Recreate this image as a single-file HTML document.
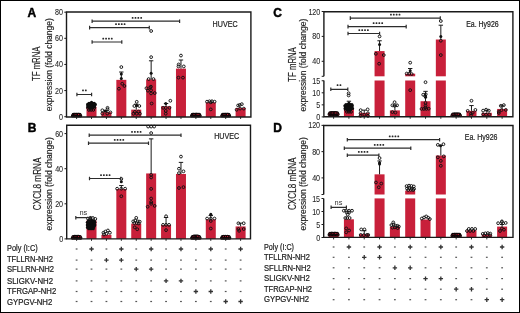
<!DOCTYPE html><html><head><meta charset="utf-8"><style>html,body{margin:0;padding:0;background:#fff;}svg{display:block;will-change:transform;}text{font-family:"Liberation Sans",sans-serif;}text.t{stroke:#1e1e1e;stroke-width:0.22px;}text.u{stroke:#1e1e1e;stroke-width:0.08px;}text.v{stroke:#1e1e1e;stroke-width:0.16px;}</style></head><body>
<svg width="520" height="313" viewBox="0 0 520 313">
<rect x="0" y="0" width="520" height="313" fill="#fff"/>
<text x="27.4" y="17.3" font-size="12.0" font-weight="bold" fill="#000" stroke="#000" stroke-width="0.45">A</text>
<text x="27.8" y="131.6" font-size="12.0" font-weight="bold" fill="#000" stroke="#000" stroke-width="0.45">B</text>
<text x="273.2" y="17.3" font-size="12.0" font-weight="bold" fill="#000" stroke="#000" stroke-width="0.45">C</text>
<text x="273.3" y="132.3" font-size="12.0" font-weight="bold" fill="#000" stroke="#000" stroke-width="0.45">D</text>
<text transform="translate(40.2 63.8) rotate(-90)" font-size="10" text-anchor="middle" fill="#1e1e1e" class="v" textLength="34.3" lengthAdjust="spacingAndGlyphs">TF mRNA</text>
<text transform="translate(51.6 64.7) rotate(-90)" font-size="8.9" text-anchor="middle" fill="#1e1e1e" class="v" textLength="93.1" lengthAdjust="spacingAndGlyphs">expression (fold change)</text>
<text transform="translate(40.6 183.9) rotate(-90)" font-size="10" text-anchor="middle" fill="#1e1e1e" class="v" textLength="52.5" lengthAdjust="spacingAndGlyphs">CXCL8 mRNA</text>
<text transform="translate(52 183.9) rotate(-90)" font-size="8.9" text-anchor="middle" fill="#1e1e1e" class="v" textLength="93.4" lengthAdjust="spacingAndGlyphs">expression (fold change)</text>
<text transform="translate(295.5 64.45) rotate(-90)" font-size="10" text-anchor="middle" fill="#1e1e1e" class="v" textLength="34.4" lengthAdjust="spacingAndGlyphs">TF mRNA</text>
<text transform="translate(306.3 65.1) rotate(-90)" font-size="8.9" text-anchor="middle" fill="#1e1e1e" class="v" textLength="92.7" lengthAdjust="spacingAndGlyphs">expression (fold change)</text>
<text transform="translate(295.6 183.8) rotate(-90)" font-size="10" text-anchor="middle" fill="#1e1e1e" class="v" textLength="52.5" lengthAdjust="spacingAndGlyphs">CXCL8 mRNA</text>
<text transform="translate(306.3 183.9) rotate(-90)" font-size="8.9" text-anchor="middle" fill="#1e1e1e" class="v" textLength="93.4" lengthAdjust="spacingAndGlyphs">expression (fold change)</text>
<text x="212.6" y="26.9" font-size="8.5" fill="#1e1e1e" class="t" textLength="25" lengthAdjust="spacingAndGlyphs">HUVEC</text>
<text x="214.2" y="138.9" font-size="8.5" fill="#1e1e1e" class="t" textLength="25" lengthAdjust="spacingAndGlyphs">HUVEC</text>
<text x="466.2" y="27" font-size="8.4" fill="#1e1e1e" class="t" textLength="32.5" lengthAdjust="spacingAndGlyphs">Ea. Hy926</text>
<text x="464.8" y="139.8" font-size="8.4" fill="#1e1e1e" class="t" textLength="32.6" lengthAdjust="spacingAndGlyphs">Ea. Hy926</text>
<rect x="71.6" y="115.39" width="10" height="1.61" fill="#c8203a"/>
<circle cx="72.7" cy="115.7" r="1.25" fill="#c8203a" stroke="#050505" stroke-width="1.05"/>
<circle cx="74.26" cy="115.7" r="1.25" fill="#c8203a" stroke="#050505" stroke-width="1.05"/>
<circle cx="75.82" cy="115.7" r="1.25" fill="#c8203a" stroke="#050505" stroke-width="1.05"/>
<circle cx="77.38" cy="115.7" r="1.25" fill="#c8203a" stroke="#050505" stroke-width="1.05"/>
<circle cx="78.94" cy="115.7" r="1.25" fill="#c8203a" stroke="#050505" stroke-width="1.05"/>
<circle cx="80.5" cy="115.7" r="1.25" fill="#c8203a" stroke="#050505" stroke-width="1.05"/>
<circle cx="73.4" cy="114.5" r="1.25" fill="#c8203a" stroke="#050505" stroke-width="1.05"/>
<circle cx="75" cy="114.5" r="1.25" fill="#c8203a" stroke="#050505" stroke-width="1.05"/>
<circle cx="76.6" cy="114.5" r="1.25" fill="#c8203a" stroke="#050505" stroke-width="1.05"/>
<circle cx="78.2" cy="114.5" r="1.25" fill="#c8203a" stroke="#050505" stroke-width="1.05"/>
<circle cx="79.8" cy="114.5" r="1.25" fill="#c8203a" stroke="#050505" stroke-width="1.05"/>
<circle cx="74.56" cy="114.5" r="1.25" fill="#c8203a" stroke="#050505" stroke-width="1.05"/>
<circle cx="75.92" cy="114.5" r="1.25" fill="#c8203a" stroke="#050505" stroke-width="1.05"/>
<circle cx="77.28" cy="114.5" r="1.25" fill="#c8203a" stroke="#050505" stroke-width="1.05"/>
<circle cx="78.63" cy="114.5" r="1.25" fill="#c8203a" stroke="#050505" stroke-width="1.05"/>
<rect x="86.51" y="106.77" width="10" height="10.23" fill="#c8203a"/>
<circle cx="91.51" cy="102.2" r="1.55" fill="#0d0d0d"/>
<circle cx="88.99" cy="103.3" r="1.55" fill="#0d0d0d"/>
<circle cx="90.29" cy="103.3" r="1.55" fill="#0d0d0d"/>
<circle cx="91.59" cy="103.3" r="1.55" fill="#0d0d0d"/>
<circle cx="92.89" cy="103.3" r="1.55" fill="#0d0d0d"/>
<circle cx="94.19" cy="103.3" r="1.55" fill="#0d0d0d"/>
<circle cx="87.56" cy="104.4" r="1.55" fill="#0d0d0d"/>
<circle cx="88.86" cy="104.4" r="1.55" fill="#0d0d0d"/>
<circle cx="90.16" cy="104.4" r="1.55" fill="#0d0d0d"/>
<circle cx="91.46" cy="104.4" r="1.55" fill="#0d0d0d"/>
<circle cx="92.76" cy="104.4" r="1.55" fill="#0d0d0d"/>
<circle cx="94.06" cy="104.4" r="1.55" fill="#0d0d0d"/>
<circle cx="95.36" cy="104.4" r="1.55" fill="#0d0d0d"/>
<circle cx="88.08" cy="105.5" r="1.55" fill="#0d0d0d"/>
<circle cx="89.38" cy="105.5" r="1.55" fill="#0d0d0d"/>
<circle cx="90.68" cy="105.5" r="1.55" fill="#0d0d0d"/>
<circle cx="91.98" cy="105.5" r="1.55" fill="#0d0d0d"/>
<circle cx="93.28" cy="105.5" r="1.55" fill="#0d0d0d"/>
<circle cx="94.58" cy="105.5" r="1.55" fill="#0d0d0d"/>
<circle cx="87.88" cy="106.6" r="1.55" fill="#0d0d0d"/>
<circle cx="89.18" cy="106.6" r="1.55" fill="#0d0d0d"/>
<circle cx="90.48" cy="106.6" r="1.55" fill="#0d0d0d"/>
<circle cx="91.78" cy="106.6" r="1.55" fill="#0d0d0d"/>
<circle cx="93.08" cy="106.6" r="1.55" fill="#0d0d0d"/>
<circle cx="94.38" cy="106.6" r="1.55" fill="#0d0d0d"/>
<circle cx="89.89" cy="107.7" r="1.55" fill="#0d0d0d"/>
<circle cx="91.19" cy="107.7" r="1.55" fill="#0d0d0d"/>
<circle cx="92.49" cy="107.7" r="1.55" fill="#0d0d0d"/>
<circle cx="87.81" cy="107.8" r="1.3" fill="none" stroke="#0d0d0d" stroke-width="1.0"/>
<circle cx="90.01" cy="107.8" r="1.3" fill="none" stroke="#0d0d0d" stroke-width="1.0"/>
<circle cx="92.21" cy="107.8" r="1.3" fill="none" stroke="#0d0d0d" stroke-width="1.0"/>
<circle cx="94.41" cy="107.8" r="1.3" fill="none" stroke="#0d0d0d" stroke-width="1.0"/>
<circle cx="88.91" cy="110" r="1.3" fill="none" stroke="#0d0d0d" stroke-width="1.0"/>
<circle cx="91.11" cy="110" r="1.3" fill="none" stroke="#0d0d0d" stroke-width="1.0"/>
<circle cx="93.31" cy="110" r="1.3" fill="none" stroke="#0d0d0d" stroke-width="1.0"/>
<rect x="101.42" y="112.13" width="10" height="4.87" fill="#c8203a"/>
<path d="M106.42 112.13V110.69M104.22 110.69H108.62" stroke="#1a1a1a" stroke-width="1" fill="none"/>
<circle cx="102.32" cy="110.3" r="1.4" fill="none" stroke="#111" stroke-width="0.95"/>
<circle cx="107.52" cy="107.82" r="1.4" fill="none" stroke="#111" stroke-width="0.95"/>
<circle cx="107.52" cy="109.38" r="1.4" fill="none" stroke="#111" stroke-width="0.95"/>
<circle cx="104.92" cy="110.95" r="1.5" fill="#111"/>
<circle cx="102.32" cy="113.56" r="1.4" fill="none" stroke="#111" stroke-width="0.95"/>
<circle cx="107.22" cy="113.56" r="1.4" fill="none" stroke="#111" stroke-width="0.95"/>
<circle cx="110.42" cy="112.39" r="1.4" fill="none" stroke="#111" stroke-width="0.95"/>
<rect x="116.33" y="79.86" width="10" height="37.14" fill="#c8203a"/>
<path d="M121.33 79.86V72.02M119.13 72.02H123.53" stroke="#1a1a1a" stroke-width="1" fill="none"/>
<circle cx="121.33" cy="67.06" r="1.4" fill="none" stroke="#111" stroke-width="0.95"/>
<circle cx="121.33" cy="74.11" r="1.5" fill="#111"/>
<circle cx="121.33" cy="78.43" r="1.5" fill="#111"/>
<circle cx="122.23" cy="83.78" r="1.4" fill="none" stroke="#111" stroke-width="0.95"/>
<circle cx="124.43" cy="86" r="1.4" fill="none" stroke="#111" stroke-width="0.95"/>
<circle cx="118.93" cy="88.75" r="1.4" fill="none" stroke="#111" stroke-width="0.95"/>
<rect x="131.24" y="109.65" width="10" height="7.35" fill="#c8203a"/>
<path d="M136.24 109.65V104.16M134.04 104.16H138.44" stroke="#1a1a1a" stroke-width="1" fill="none"/>
<circle cx="136.74" cy="101.81" r="1.4" fill="none" stroke="#111" stroke-width="0.95"/>
<circle cx="136.74" cy="105.47" r="1.5" fill="#111"/>
<circle cx="134.34" cy="105.99" r="1.4" fill="none" stroke="#111" stroke-width="0.95"/>
<circle cx="139.34" cy="105.99" r="1.4" fill="none" stroke="#111" stroke-width="0.95"/>
<circle cx="133.44" cy="113.7" r="1.4" fill="none" stroke="#111" stroke-width="0.95"/>
<circle cx="136.74" cy="113.7" r="1.4" fill="none" stroke="#111" stroke-width="0.95"/>
<circle cx="139.94" cy="113.7" r="1.4" fill="none" stroke="#111" stroke-width="0.95"/>
<circle cx="134.84" cy="111.87" r="1.4" fill="none" stroke="#111" stroke-width="0.95"/>
<circle cx="138.54" cy="111.61" r="1.4" fill="none" stroke="#111" stroke-width="0.95"/>
<rect x="146.15" y="79.47" width="10" height="37.53" fill="#c8203a"/>
<path d="M151.15 79.47V60.79M148.95 60.79H153.35" stroke="#1a1a1a" stroke-width="1" fill="none"/>
<circle cx="151.15" cy="31.01" r="1.4" fill="none" stroke="#111" stroke-width="0.95"/>
<circle cx="151.15" cy="57.13" r="1.4" fill="none" stroke="#111" stroke-width="0.95"/>
<circle cx="151.15" cy="73.2" r="1.5" fill="#111"/>
<circle cx="148.65" cy="79.08" r="1.4" fill="none" stroke="#111" stroke-width="0.95"/>
<circle cx="153.45" cy="79.08" r="1.4" fill="none" stroke="#111" stroke-width="0.95"/>
<circle cx="146.45" cy="88.22" r="1.4" fill="none" stroke="#111" stroke-width="0.95"/>
<circle cx="150.95" cy="86.66" r="1.4" fill="none" stroke="#111" stroke-width="0.95"/>
<circle cx="150.15" cy="87.44" r="1.4" fill="none" stroke="#111" stroke-width="0.95"/>
<circle cx="147.95" cy="90.7" r="1.4" fill="none" stroke="#111" stroke-width="0.95"/>
<circle cx="151.05" cy="90.31" r="1.4" fill="none" stroke="#111" stroke-width="0.95"/>
<circle cx="151.05" cy="93.45" r="1.4" fill="none" stroke="#111" stroke-width="0.95"/>
<circle cx="154.75" cy="93.06" r="1.4" fill="none" stroke="#111" stroke-width="0.95"/>
<circle cx="151.65" cy="103.51" r="1.4" fill="none" stroke="#111" stroke-width="0.95"/>
<rect x="161.06" y="106.25" width="10" height="10.75" fill="#c8203a"/>
<path d="M166.06 106.25V103.51M163.86 103.51H168.26" stroke="#1a1a1a" stroke-width="1" fill="none"/>
<circle cx="170.36" cy="100.76" r="1.4" fill="none" stroke="#111" stroke-width="0.95"/>
<circle cx="165.76" cy="103.51" r="1.5" fill="#111"/>
<circle cx="163.16" cy="107.82" r="1.4" fill="none" stroke="#111" stroke-width="0.95"/>
<circle cx="165.76" cy="107.82" r="1.4" fill="none" stroke="#111" stroke-width="0.95"/>
<circle cx="169.46" cy="107.82" r="1.4" fill="none" stroke="#111" stroke-width="0.95"/>
<circle cx="165.76" cy="110.95" r="1.4" fill="none" stroke="#111" stroke-width="0.95"/>
<circle cx="165.76" cy="113.7" r="1.4" fill="none" stroke="#111" stroke-width="0.95"/>
<rect x="175.97" y="68.63" width="10" height="48.37" fill="#c8203a"/>
<path d="M180.97 68.63V60.01M178.77 60.01H183.17" stroke="#1a1a1a" stroke-width="1" fill="none"/>
<circle cx="180.97" cy="55.57" r="1.4" fill="none" stroke="#111" stroke-width="0.95"/>
<circle cx="178.47" cy="66.41" r="1.4" fill="none" stroke="#111" stroke-width="0.95"/>
<circle cx="183.77" cy="66.41" r="1.4" fill="none" stroke="#111" stroke-width="0.95"/>
<circle cx="178.67" cy="64.45" r="1.4" fill="none" stroke="#111" stroke-width="0.95"/>
<circle cx="178.47" cy="77.64" r="1.4" fill="none" stroke="#111" stroke-width="0.95"/>
<circle cx="182.97" cy="77.64" r="1.4" fill="none" stroke="#111" stroke-width="0.95"/>
<rect x="190.88" y="115.39" width="10" height="1.61" fill="#c8203a"/>
<circle cx="191.78" cy="115.7" r="1.25" fill="#c8203a" stroke="#050505" stroke-width="1.05"/>
<circle cx="193.42" cy="115.7" r="1.25" fill="#c8203a" stroke="#050505" stroke-width="1.05"/>
<circle cx="195.06" cy="115.7" r="1.25" fill="#c8203a" stroke="#050505" stroke-width="1.05"/>
<circle cx="196.7" cy="115.7" r="1.25" fill="#c8203a" stroke="#050505" stroke-width="1.05"/>
<circle cx="198.34" cy="115.7" r="1.25" fill="#c8203a" stroke="#050505" stroke-width="1.05"/>
<circle cx="199.98" cy="115.7" r="1.25" fill="#c8203a" stroke="#050505" stroke-width="1.05"/>
<circle cx="192.48" cy="114.5" r="1.25" fill="#c8203a" stroke="#050505" stroke-width="1.05"/>
<circle cx="193.84" cy="114.5" r="1.25" fill="#c8203a" stroke="#050505" stroke-width="1.05"/>
<circle cx="195.2" cy="114.5" r="1.25" fill="#c8203a" stroke="#050505" stroke-width="1.05"/>
<circle cx="196.56" cy="114.5" r="1.25" fill="#c8203a" stroke="#050505" stroke-width="1.05"/>
<circle cx="197.92" cy="114.5" r="1.25" fill="#c8203a" stroke="#050505" stroke-width="1.05"/>
<circle cx="199.28" cy="114.5" r="1.25" fill="#c8203a" stroke="#050505" stroke-width="1.05"/>
<circle cx="193.73" cy="114.4" r="1.25" fill="#c8203a" stroke="#050505" stroke-width="1.05"/>
<circle cx="195.16" cy="114.4" r="1.25" fill="#c8203a" stroke="#050505" stroke-width="1.05"/>
<circle cx="196.59" cy="114.4" r="1.25" fill="#c8203a" stroke="#050505" stroke-width="1.05"/>
<circle cx="198.02" cy="114.4" r="1.25" fill="#c8203a" stroke="#050505" stroke-width="1.05"/>
<rect x="205.79" y="102.46" width="10" height="14.54" fill="#c8203a"/>
<circle cx="206.99" cy="101.68" r="1.4" fill="none" stroke="#111" stroke-width="0.95"/>
<circle cx="209.49" cy="101.29" r="1.4" fill="none" stroke="#111" stroke-width="0.95"/>
<circle cx="211.99" cy="101.29" r="1.4" fill="none" stroke="#111" stroke-width="0.95"/>
<circle cx="214.59" cy="101.68" r="1.4" fill="none" stroke="#111" stroke-width="0.95"/>
<circle cx="210.79" cy="102.33" r="1.4" fill="none" stroke="#111" stroke-width="0.95"/>
<circle cx="210.79" cy="109.38" r="1.4" fill="none" stroke="#111" stroke-width="0.95"/>
<rect x="220.7" y="115.39" width="10" height="1.61" fill="#c8203a"/>
<circle cx="222" cy="115.7" r="1.25" fill="#c8203a" stroke="#050505" stroke-width="1.05"/>
<circle cx="223.48" cy="115.7" r="1.25" fill="#c8203a" stroke="#050505" stroke-width="1.05"/>
<circle cx="224.96" cy="115.7" r="1.25" fill="#c8203a" stroke="#050505" stroke-width="1.05"/>
<circle cx="226.44" cy="115.7" r="1.25" fill="#c8203a" stroke="#050505" stroke-width="1.05"/>
<circle cx="227.92" cy="115.7" r="1.25" fill="#c8203a" stroke="#050505" stroke-width="1.05"/>
<circle cx="229.4" cy="115.7" r="1.25" fill="#c8203a" stroke="#050505" stroke-width="1.05"/>
<circle cx="222.7" cy="114.5" r="1.25" fill="#c8203a" stroke="#050505" stroke-width="1.05"/>
<circle cx="224.2" cy="114.5" r="1.25" fill="#c8203a" stroke="#050505" stroke-width="1.05"/>
<circle cx="225.7" cy="114.5" r="1.25" fill="#c8203a" stroke="#050505" stroke-width="1.05"/>
<circle cx="227.2" cy="114.5" r="1.25" fill="#c8203a" stroke="#050505" stroke-width="1.05"/>
<circle cx="228.7" cy="114.5" r="1.25" fill="#c8203a" stroke="#050505" stroke-width="1.05"/>
<circle cx="223.77" cy="114.5" r="1.25" fill="#c8203a" stroke="#050505" stroke-width="1.05"/>
<circle cx="225.06" cy="114.5" r="1.25" fill="#c8203a" stroke="#050505" stroke-width="1.05"/>
<circle cx="226.34" cy="114.5" r="1.25" fill="#c8203a" stroke="#050505" stroke-width="1.05"/>
<circle cx="227.62" cy="114.5" r="1.25" fill="#c8203a" stroke="#050505" stroke-width="1.05"/>
<rect x="235.61" y="107.95" width="10" height="9.05" fill="#c8203a"/>
<circle cx="236.61" cy="109.78" r="1.4" fill="none" stroke="#111" stroke-width="0.95"/>
<circle cx="238.11" cy="105.47" r="1.4" fill="none" stroke="#111" stroke-width="0.95"/>
<circle cx="239.81" cy="104.94" r="1.4" fill="none" stroke="#111" stroke-width="0.95"/>
<circle cx="241.81" cy="104.16" r="1.4" fill="none" stroke="#111" stroke-width="0.95"/>
<circle cx="240.11" cy="108.6" r="1.4" fill="none" stroke="#111" stroke-width="0.95"/>
<circle cx="243.81" cy="108.6" r="1.4" fill="none" stroke="#111" stroke-width="0.95"/>
<path d="M66.5 12V117H250.9V12Z" stroke="#1a1a1a" stroke-width="1.4" fill="none"/>
<path d="M64.3 116.7H66.5" stroke="#1a1a1a" stroke-width="1"/>
<text x="62.9" y="119.7" font-size="8.5" text-anchor="end" fill="#1e1e1e" class="u" textLength="3.97" lengthAdjust="spacingAndGlyphs">0</text>
<path d="M64.3 90.57H66.5" stroke="#1a1a1a" stroke-width="1"/>
<text x="62.9" y="93.57" font-size="8.5" text-anchor="end" fill="#1e1e1e" class="u" textLength="7.94" lengthAdjust="spacingAndGlyphs">20</text>
<path d="M64.3 64.45H66.5" stroke="#1a1a1a" stroke-width="1"/>
<text x="62.9" y="67.45" font-size="8.5" text-anchor="end" fill="#1e1e1e" class="u" textLength="7.94" lengthAdjust="spacingAndGlyphs">40</text>
<path d="M64.3 38.32H66.5" stroke="#1a1a1a" stroke-width="1"/>
<text x="62.9" y="41.32" font-size="8.5" text-anchor="end" fill="#1e1e1e" class="u" textLength="7.94" lengthAdjust="spacingAndGlyphs">60</text>
<path d="M64.3 12.2H66.5" stroke="#1a1a1a" stroke-width="1"/>
<text x="62.9" y="15.2" font-size="8.5" text-anchor="end" fill="#1e1e1e" class="u" textLength="7.94" lengthAdjust="spacingAndGlyphs">80</text>
<path d="M76.6 117V119" stroke="#1a1a1a" stroke-width="0.9"/>
<path d="M91.51 117V119" stroke="#1a1a1a" stroke-width="0.9"/>
<path d="M106.42 117V119" stroke="#1a1a1a" stroke-width="0.9"/>
<path d="M121.33 117V119" stroke="#1a1a1a" stroke-width="0.9"/>
<path d="M136.24 117V119" stroke="#1a1a1a" stroke-width="0.9"/>
<path d="M151.15 117V119" stroke="#1a1a1a" stroke-width="0.9"/>
<path d="M166.06 117V119" stroke="#1a1a1a" stroke-width="0.9"/>
<path d="M180.97 117V119" stroke="#1a1a1a" stroke-width="0.9"/>
<path d="M195.88 117V119" stroke="#1a1a1a" stroke-width="0.9"/>
<path d="M210.79 117V119" stroke="#1a1a1a" stroke-width="0.9"/>
<path d="M225.7 117V119" stroke="#1a1a1a" stroke-width="0.9"/>
<path d="M240.61 117V119" stroke="#1a1a1a" stroke-width="0.9"/>
<path d="M76.9 94.5H91.6M76.9 92.7V96.3M91.6 92.7V96.3" stroke="#2c2c2c" stroke-width="1.2" fill="none"/>
<rect x="82.1" y="89.53" width="1.75" height="1.75" rx="0.5" fill="#2a2a2a"/>
<rect x="84.95" y="89.53" width="1.75" height="1.75" rx="0.5" fill="#2a2a2a"/>
<path d="M92.1 21.2H179.6M92.1 19.4V23M179.6 19.4V23" stroke="#2c2c2c" stroke-width="1.2" fill="none"/>
<rect x="131.75" y="16.93" width="1.75" height="1.75" rx="0.5" fill="#2a2a2a"/>
<rect x="134.6" y="16.93" width="1.75" height="1.75" rx="0.5" fill="#2a2a2a"/>
<rect x="137.45" y="16.93" width="1.75" height="1.75" rx="0.5" fill="#2a2a2a"/>
<rect x="140.3" y="16.93" width="1.75" height="1.75" rx="0.5" fill="#2a2a2a"/>
<path d="M89.6 27.6H149.3M89.6 25.8V29.4M149.3 25.8V29.4" stroke="#2c2c2c" stroke-width="1.2" fill="none"/>
<rect x="115.15" y="23.33" width="1.75" height="1.75" rx="0.5" fill="#2a2a2a"/>
<rect x="118" y="23.33" width="1.75" height="1.75" rx="0.5" fill="#2a2a2a"/>
<rect x="120.85" y="23.33" width="1.75" height="1.75" rx="0.5" fill="#2a2a2a"/>
<rect x="123.7" y="23.33" width="1.75" height="1.75" rx="0.5" fill="#2a2a2a"/>
<path d="M92.1 42H121.8M92.1 40.2V43.8M121.8 40.2V43.8" stroke="#2c2c2c" stroke-width="1.2" fill="none"/>
<rect x="102.35" y="37.73" width="1.75" height="1.75" rx="0.5" fill="#2a2a2a"/>
<rect x="105.2" y="37.73" width="1.75" height="1.75" rx="0.5" fill="#2a2a2a"/>
<rect x="108.05" y="37.73" width="1.75" height="1.75" rx="0.5" fill="#2a2a2a"/>
<rect x="110.9" y="37.73" width="1.75" height="1.75" rx="0.5" fill="#2a2a2a"/>
<rect x="71.6" y="237.67" width="10" height="1.23" fill="#c8203a"/>
<circle cx="72.5" cy="237.9" r="1.25" fill="#c8203a" stroke="#050505" stroke-width="1.05"/>
<circle cx="74.14" cy="237.9" r="1.25" fill="#c8203a" stroke="#050505" stroke-width="1.05"/>
<circle cx="75.78" cy="237.9" r="1.25" fill="#c8203a" stroke="#050505" stroke-width="1.05"/>
<circle cx="77.42" cy="237.9" r="1.25" fill="#c8203a" stroke="#050505" stroke-width="1.05"/>
<circle cx="79.06" cy="237.9" r="1.25" fill="#c8203a" stroke="#050505" stroke-width="1.05"/>
<circle cx="80.7" cy="237.9" r="1.25" fill="#c8203a" stroke="#050505" stroke-width="1.05"/>
<circle cx="73.2" cy="236.7" r="1.25" fill="#c8203a" stroke="#050505" stroke-width="1.05"/>
<circle cx="74.56" cy="236.7" r="1.25" fill="#c8203a" stroke="#050505" stroke-width="1.05"/>
<circle cx="75.92" cy="236.7" r="1.25" fill="#c8203a" stroke="#050505" stroke-width="1.05"/>
<circle cx="77.28" cy="236.7" r="1.25" fill="#c8203a" stroke="#050505" stroke-width="1.05"/>
<circle cx="78.64" cy="236.7" r="1.25" fill="#c8203a" stroke="#050505" stroke-width="1.05"/>
<circle cx="80" cy="236.7" r="1.25" fill="#c8203a" stroke="#050505" stroke-width="1.05"/>
<circle cx="74.65" cy="236.6" r="1.25" fill="#c8203a" stroke="#050505" stroke-width="1.05"/>
<circle cx="75.95" cy="236.6" r="1.25" fill="#c8203a" stroke="#050505" stroke-width="1.05"/>
<circle cx="77.25" cy="236.6" r="1.25" fill="#c8203a" stroke="#050505" stroke-width="1.05"/>
<circle cx="78.55" cy="236.6" r="1.25" fill="#c8203a" stroke="#050505" stroke-width="1.05"/>
<rect x="86.51" y="220.47" width="10" height="18.43" fill="#c8203a"/>
<circle cx="91.11" cy="219.7" r="1.55" fill="#0d0d0d"/>
<circle cx="88.37" cy="221" r="1.55" fill="#0d0d0d"/>
<circle cx="89.87" cy="221" r="1.55" fill="#0d0d0d"/>
<circle cx="91.37" cy="221" r="1.55" fill="#0d0d0d"/>
<circle cx="92.87" cy="221" r="1.55" fill="#0d0d0d"/>
<circle cx="94.37" cy="221" r="1.55" fill="#0d0d0d"/>
<circle cx="87.36" cy="222.3" r="1.55" fill="#0d0d0d"/>
<circle cx="88.86" cy="222.3" r="1.55" fill="#0d0d0d"/>
<circle cx="90.36" cy="222.3" r="1.55" fill="#0d0d0d"/>
<circle cx="91.86" cy="222.3" r="1.55" fill="#0d0d0d"/>
<circle cx="93.36" cy="222.3" r="1.55" fill="#0d0d0d"/>
<circle cx="94.86" cy="222.3" r="1.55" fill="#0d0d0d"/>
<circle cx="88.06" cy="223.6" r="1.55" fill="#0d0d0d"/>
<circle cx="89.56" cy="223.6" r="1.55" fill="#0d0d0d"/>
<circle cx="91.06" cy="223.6" r="1.55" fill="#0d0d0d"/>
<circle cx="92.56" cy="223.6" r="1.55" fill="#0d0d0d"/>
<circle cx="94.06" cy="223.6" r="1.55" fill="#0d0d0d"/>
<circle cx="87.31" cy="224.9" r="1.55" fill="#0d0d0d"/>
<circle cx="88.81" cy="224.9" r="1.55" fill="#0d0d0d"/>
<circle cx="90.31" cy="224.9" r="1.55" fill="#0d0d0d"/>
<circle cx="91.81" cy="224.9" r="1.55" fill="#0d0d0d"/>
<circle cx="93.31" cy="224.9" r="1.55" fill="#0d0d0d"/>
<circle cx="94.81" cy="224.9" r="1.55" fill="#0d0d0d"/>
<circle cx="88.07" cy="226.2" r="1.55" fill="#0d0d0d"/>
<circle cx="89.57" cy="226.2" r="1.55" fill="#0d0d0d"/>
<circle cx="91.07" cy="226.2" r="1.55" fill="#0d0d0d"/>
<circle cx="92.57" cy="226.2" r="1.55" fill="#0d0d0d"/>
<circle cx="94.07" cy="226.2" r="1.55" fill="#0d0d0d"/>
<circle cx="87.43" cy="227.5" r="1.55" fill="#0d0d0d"/>
<circle cx="88.93" cy="227.5" r="1.55" fill="#0d0d0d"/>
<circle cx="90.43" cy="227.5" r="1.55" fill="#0d0d0d"/>
<circle cx="91.93" cy="227.5" r="1.55" fill="#0d0d0d"/>
<circle cx="93.43" cy="227.5" r="1.55" fill="#0d0d0d"/>
<circle cx="88.73" cy="228.8" r="1.55" fill="#0d0d0d"/>
<circle cx="90.23" cy="228.8" r="1.55" fill="#0d0d0d"/>
<circle cx="91.73" cy="228.8" r="1.55" fill="#0d0d0d"/>
<circle cx="93.23" cy="228.8" r="1.55" fill="#0d0d0d"/>
<rect x="86.51" y="238.9" width="10" height="0" fill="#c8203a"/>
<circle cx="87.91" cy="218.54" r="1.4" fill="none" stroke="#111" stroke-width="0.95"/>
<circle cx="90.31" cy="217.84" r="1.4" fill="none" stroke="#111" stroke-width="0.95"/>
<circle cx="92.91" cy="218.02" r="1.4" fill="none" stroke="#111" stroke-width="0.95"/>
<circle cx="95.31" cy="218.89" r="1.4" fill="none" stroke="#111" stroke-width="0.95"/>
<circle cx="89.11" cy="220.3" r="1.4" fill="none" stroke="#111" stroke-width="0.95"/>
<rect x="101.42" y="234.86" width="10" height="4.04" fill="#c8203a"/>
<circle cx="103.42" cy="232.76" r="1.4" fill="none" stroke="#111" stroke-width="0.95"/>
<circle cx="105.42" cy="231.53" r="1.4" fill="none" stroke="#111" stroke-width="0.95"/>
<circle cx="107.92" cy="230.48" r="1.4" fill="none" stroke="#111" stroke-width="0.95"/>
<circle cx="109.92" cy="232.76" r="1.4" fill="none" stroke="#111" stroke-width="0.95"/>
<circle cx="106.42" cy="233.81" r="1.4" fill="none" stroke="#111" stroke-width="0.95"/>
<circle cx="103.92" cy="234.51" r="1.4" fill="none" stroke="#111" stroke-width="0.95"/>
<rect x="116.33" y="189.06" width="10" height="49.84" fill="#c8203a"/>
<path d="M121.33 189.06V185.55M119.13 185.55H123.53" stroke="#1a1a1a" stroke-width="1" fill="none"/>
<circle cx="121.33" cy="181.69" r="1.5" fill="#111"/>
<circle cx="121.33" cy="178.88" r="1.4" fill="none" stroke="#111" stroke-width="0.95"/>
<circle cx="117.13" cy="188.71" r="1.4" fill="none" stroke="#111" stroke-width="0.95"/>
<circle cx="121.33" cy="188.71" r="1.4" fill="none" stroke="#111" stroke-width="0.95"/>
<circle cx="125.13" cy="188.71" r="1.4" fill="none" stroke="#111" stroke-width="0.95"/>
<circle cx="121.33" cy="196.25" r="1.4" fill="none" stroke="#111" stroke-width="0.95"/>
<rect x="131.24" y="223.63" width="10" height="15.27" fill="#c8203a"/>
<circle cx="136.24" cy="217.84" r="1.4" fill="none" stroke="#111" stroke-width="0.95"/>
<circle cx="133.24" cy="221.35" r="1.4" fill="none" stroke="#111" stroke-width="0.95"/>
<circle cx="135.24" cy="220.47" r="1.4" fill="none" stroke="#111" stroke-width="0.95"/>
<circle cx="137.74" cy="221.35" r="1.4" fill="none" stroke="#111" stroke-width="0.95"/>
<circle cx="139.74" cy="221.7" r="1.4" fill="none" stroke="#111" stroke-width="0.95"/>
<circle cx="134.24" cy="223.11" r="1.4" fill="none" stroke="#111" stroke-width="0.95"/>
<circle cx="136.74" cy="223.11" r="1.4" fill="none" stroke="#111" stroke-width="0.95"/>
<circle cx="138.74" cy="223.46" r="1.4" fill="none" stroke="#111" stroke-width="0.95"/>
<circle cx="134.74" cy="227.32" r="1.4" fill="none" stroke="#111" stroke-width="0.95"/>
<circle cx="137.24" cy="229.25" r="1.4" fill="none" stroke="#111" stroke-width="0.95"/>
<rect x="146.15" y="173.44" width="10" height="65.46" fill="#c8203a"/>
<path d="M151.15 173.44V138.87M148.95 138.87H153.35" stroke="#1a1a1a" stroke-width="1" fill="none"/>
<circle cx="151.15" cy="126.58" r="1.4" fill="none" stroke="#111" stroke-width="0.95"/>
<circle cx="148.15" cy="126.58" r="1.4" fill="none" stroke="#111" stroke-width="0.95"/>
<circle cx="154.15" cy="126.58" r="1.4" fill="none" stroke="#111" stroke-width="0.95"/>
<circle cx="151.15" cy="133.07" r="1.4" fill="none" stroke="#111" stroke-width="0.95"/>
<circle cx="151.15" cy="174.84" r="1.4" fill="none" stroke="#111" stroke-width="0.95"/>
<circle cx="151.15" cy="177.48" r="1.4" fill="none" stroke="#111" stroke-width="0.95"/>
<circle cx="151.15" cy="188.88" r="1.4" fill="none" stroke="#111" stroke-width="0.95"/>
<circle cx="151.15" cy="198.54" r="1.4" fill="none" stroke="#111" stroke-width="0.95"/>
<circle cx="151.15" cy="202.05" r="1.4" fill="none" stroke="#111" stroke-width="0.95"/>
<circle cx="151.15" cy="203.8" r="1.4" fill="none" stroke="#111" stroke-width="0.95"/>
<circle cx="147.65" cy="206.78" r="1.4" fill="none" stroke="#111" stroke-width="0.95"/>
<circle cx="154.65" cy="205.91" r="1.4" fill="none" stroke="#111" stroke-width="0.95"/>
<rect x="161.06" y="225.04" width="10" height="13.86" fill="#c8203a"/>
<path d="M166.06 225.04V217.49M163.86 217.49H168.26" stroke="#1a1a1a" stroke-width="1" fill="none"/>
<circle cx="166.06" cy="216.26" r="1.4" fill="none" stroke="#111" stroke-width="0.95"/>
<circle cx="163.06" cy="224.86" r="1.4" fill="none" stroke="#111" stroke-width="0.95"/>
<circle cx="166.06" cy="224.86" r="1.4" fill="none" stroke="#111" stroke-width="0.95"/>
<circle cx="169.06" cy="224.86" r="1.4" fill="none" stroke="#111" stroke-width="0.95"/>
<circle cx="166.06" cy="230.12" r="1.4" fill="none" stroke="#111" stroke-width="0.95"/>
<rect x="175.97" y="173.97" width="10" height="64.94" fill="#c8203a"/>
<path d="M180.97 173.97V162.38M178.77 162.38H183.17" stroke="#1a1a1a" stroke-width="1" fill="none"/>
<circle cx="180.97" cy="156.59" r="1.4" fill="none" stroke="#111" stroke-width="0.95"/>
<circle cx="178.97" cy="168.7" r="1.4" fill="none" stroke="#111" stroke-width="0.95"/>
<circle cx="183.47" cy="171.33" r="1.4" fill="none" stroke="#111" stroke-width="0.95"/>
<circle cx="178.97" cy="173.09" r="1.4" fill="none" stroke="#111" stroke-width="0.95"/>
<circle cx="178.97" cy="188" r="1.4" fill="none" stroke="#111" stroke-width="0.95"/>
<circle cx="183.47" cy="187.13" r="1.4" fill="none" stroke="#111" stroke-width="0.95"/>
<rect x="190.88" y="237.5" width="10" height="1.4" fill="#c8203a"/>
<circle cx="191.88" cy="237.9" r="1.25" fill="#c8203a" stroke="#050505" stroke-width="1.05"/>
<circle cx="193.48" cy="237.9" r="1.25" fill="#c8203a" stroke="#050505" stroke-width="1.05"/>
<circle cx="195.08" cy="237.9" r="1.25" fill="#c8203a" stroke="#050505" stroke-width="1.05"/>
<circle cx="196.68" cy="237.9" r="1.25" fill="#c8203a" stroke="#050505" stroke-width="1.05"/>
<circle cx="198.28" cy="237.9" r="1.25" fill="#c8203a" stroke="#050505" stroke-width="1.05"/>
<circle cx="199.88" cy="237.9" r="1.25" fill="#c8203a" stroke="#050505" stroke-width="1.05"/>
<circle cx="192.58" cy="236.7" r="1.25" fill="#c8203a" stroke="#050505" stroke-width="1.05"/>
<circle cx="194.23" cy="236.7" r="1.25" fill="#c8203a" stroke="#050505" stroke-width="1.05"/>
<circle cx="195.88" cy="236.7" r="1.25" fill="#c8203a" stroke="#050505" stroke-width="1.05"/>
<circle cx="197.53" cy="236.7" r="1.25" fill="#c8203a" stroke="#050505" stroke-width="1.05"/>
<circle cx="199.18" cy="236.7" r="1.25" fill="#c8203a" stroke="#050505" stroke-width="1.05"/>
<circle cx="193.98" cy="236.3" r="1.25" fill="#c8203a" stroke="#050505" stroke-width="1.05"/>
<circle cx="195.25" cy="236.3" r="1.25" fill="#c8203a" stroke="#050505" stroke-width="1.05"/>
<circle cx="196.51" cy="236.3" r="1.25" fill="#c8203a" stroke="#050505" stroke-width="1.05"/>
<circle cx="197.78" cy="236.3" r="1.25" fill="#c8203a" stroke="#050505" stroke-width="1.05"/>
<rect x="205.79" y="219.42" width="10" height="19.48" fill="#c8203a"/>
<path d="M210.79 219.42V215.56M208.59 215.56H212.99" stroke="#1a1a1a" stroke-width="1" fill="none"/>
<circle cx="210.79" cy="214.33" r="1.5" fill="#111"/>
<circle cx="207.09" cy="218.54" r="1.4" fill="none" stroke="#111" stroke-width="0.95"/>
<circle cx="210.79" cy="218.54" r="1.4" fill="none" stroke="#111" stroke-width="0.95"/>
<circle cx="214.49" cy="218.54" r="1.4" fill="none" stroke="#111" stroke-width="0.95"/>
<circle cx="210.79" cy="221" r="1.4" fill="none" stroke="#111" stroke-width="0.95"/>
<circle cx="210.79" cy="228.55" r="1.4" fill="none" stroke="#111" stroke-width="0.95"/>
<rect x="220.7" y="237.5" width="10" height="1.4" fill="#c8203a"/>
<circle cx="221.8" cy="237.9" r="1.25" fill="#c8203a" stroke="#050505" stroke-width="1.05"/>
<circle cx="223.36" cy="237.9" r="1.25" fill="#c8203a" stroke="#050505" stroke-width="1.05"/>
<circle cx="224.92" cy="237.9" r="1.25" fill="#c8203a" stroke="#050505" stroke-width="1.05"/>
<circle cx="226.48" cy="237.9" r="1.25" fill="#c8203a" stroke="#050505" stroke-width="1.05"/>
<circle cx="228.04" cy="237.9" r="1.25" fill="#c8203a" stroke="#050505" stroke-width="1.05"/>
<circle cx="229.6" cy="237.9" r="1.25" fill="#c8203a" stroke="#050505" stroke-width="1.05"/>
<circle cx="222.5" cy="236.7" r="1.25" fill="#c8203a" stroke="#050505" stroke-width="1.05"/>
<circle cx="224.1" cy="236.7" r="1.25" fill="#c8203a" stroke="#050505" stroke-width="1.05"/>
<circle cx="225.7" cy="236.7" r="1.25" fill="#c8203a" stroke="#050505" stroke-width="1.05"/>
<circle cx="227.3" cy="236.7" r="1.25" fill="#c8203a" stroke="#050505" stroke-width="1.05"/>
<circle cx="228.9" cy="236.7" r="1.25" fill="#c8203a" stroke="#050505" stroke-width="1.05"/>
<circle cx="223.85" cy="236.5" r="1.25" fill="#c8203a" stroke="#050505" stroke-width="1.05"/>
<circle cx="225.7" cy="236.5" r="1.25" fill="#c8203a" stroke="#050505" stroke-width="1.05"/>
<circle cx="227.55" cy="236.5" r="1.25" fill="#c8203a" stroke="#050505" stroke-width="1.05"/>
<rect x="235.61" y="226.44" width="10" height="12.46" fill="#c8203a"/>
<path d="M240.61 226.44V223.11M238.41 223.11H242.81" stroke="#1a1a1a" stroke-width="1" fill="none"/>
<circle cx="238.41" cy="223.28" r="1.4" fill="none" stroke="#111" stroke-width="0.95"/>
<circle cx="243.71" cy="223.28" r="1.4" fill="none" stroke="#111" stroke-width="0.95"/>
<circle cx="238.41" cy="229.07" r="1.4" fill="none" stroke="#111" stroke-width="0.95"/>
<circle cx="243.71" cy="229.07" r="1.4" fill="none" stroke="#111" stroke-width="0.95"/>
<circle cx="239.11" cy="230.83" r="1.4" fill="none" stroke="#111" stroke-width="0.95"/>
<path d="M66.7 125.2V238.9H250.5V125.2Z" stroke="#1a1a1a" stroke-width="1.4" fill="none"/>
<path d="M64.5 238.9H66.7" stroke="#1a1a1a" stroke-width="1"/>
<text x="63.1" y="241.9" font-size="8.5" text-anchor="end" fill="#1e1e1e" class="u" textLength="3.97" lengthAdjust="spacingAndGlyphs">0</text>
<path d="M64.5 203.8H66.7" stroke="#1a1a1a" stroke-width="1"/>
<text x="63.1" y="206.8" font-size="8.5" text-anchor="end" fill="#1e1e1e" class="u" textLength="7.94" lengthAdjust="spacingAndGlyphs">20</text>
<path d="M64.5 168.7H66.7" stroke="#1a1a1a" stroke-width="1"/>
<text x="63.1" y="171.7" font-size="8.5" text-anchor="end" fill="#1e1e1e" class="u" textLength="7.94" lengthAdjust="spacingAndGlyphs">40</text>
<path d="M64.5 133.6H66.7" stroke="#1a1a1a" stroke-width="1"/>
<text x="63.1" y="136.6" font-size="8.5" text-anchor="end" fill="#1e1e1e" class="u" textLength="7.94" lengthAdjust="spacingAndGlyphs">60</text>
<path d="M76.6 238.9V240.9" stroke="#1a1a1a" stroke-width="0.9"/>
<path d="M91.51 238.9V240.9" stroke="#1a1a1a" stroke-width="0.9"/>
<path d="M106.42 238.9V240.9" stroke="#1a1a1a" stroke-width="0.9"/>
<path d="M121.33 238.9V240.9" stroke="#1a1a1a" stroke-width="0.9"/>
<path d="M136.24 238.9V240.9" stroke="#1a1a1a" stroke-width="0.9"/>
<path d="M151.15 238.9V240.9" stroke="#1a1a1a" stroke-width="0.9"/>
<path d="M166.06 238.9V240.9" stroke="#1a1a1a" stroke-width="0.9"/>
<path d="M180.97 238.9V240.9" stroke="#1a1a1a" stroke-width="0.9"/>
<path d="M195.88 238.9V240.9" stroke="#1a1a1a" stroke-width="0.9"/>
<path d="M210.79 238.9V240.9" stroke="#1a1a1a" stroke-width="0.9"/>
<path d="M225.7 238.9V240.9" stroke="#1a1a1a" stroke-width="0.9"/>
<path d="M240.61 238.9V240.9" stroke="#1a1a1a" stroke-width="0.9"/>
<path d="M75.8 217.7H90.8M75.8 215.9V219.5M90.8 215.9V219.5" stroke="#2c2c2c" stroke-width="1.2" fill="none"/>
<text x="83.3" y="215.1" font-size="7.4" text-anchor="middle" fill="#333">ns</text>
<path d="M89.2 135.2H181M89.2 133.4V137M181 133.4V137" stroke="#2c2c2c" stroke-width="1.2" fill="none"/>
<rect x="131.15" y="130.92" width="1.75" height="1.75" rx="0.5" fill="#2a2a2a"/>
<rect x="134" y="130.92" width="1.75" height="1.75" rx="0.5" fill="#2a2a2a"/>
<rect x="136.85" y="130.92" width="1.75" height="1.75" rx="0.5" fill="#2a2a2a"/>
<rect x="139.7" y="130.92" width="1.75" height="1.75" rx="0.5" fill="#2a2a2a"/>
<path d="M88.5 143.2H148.5M88.5 141.4V145M148.5 141.4V145" stroke="#2c2c2c" stroke-width="1.2" fill="none"/>
<rect x="113.85" y="138.92" width="1.75" height="1.75" rx="0.5" fill="#2a2a2a"/>
<rect x="116.7" y="138.92" width="1.75" height="1.75" rx="0.5" fill="#2a2a2a"/>
<rect x="119.55" y="138.92" width="1.75" height="1.75" rx="0.5" fill="#2a2a2a"/>
<rect x="122.4" y="138.92" width="1.75" height="1.75" rx="0.5" fill="#2a2a2a"/>
<path d="M89.5 178.5H120.8M89.5 176.7V180.3M120.8 176.7V180.3" stroke="#2c2c2c" stroke-width="1.2" fill="none"/>
<rect x="100.15" y="174.22" width="1.75" height="1.75" rx="0.5" fill="#2a2a2a"/>
<rect x="103" y="174.22" width="1.75" height="1.75" rx="0.5" fill="#2a2a2a"/>
<rect x="105.85" y="174.22" width="1.75" height="1.75" rx="0.5" fill="#2a2a2a"/>
<rect x="108.7" y="174.22" width="1.75" height="1.75" rx="0.5" fill="#2a2a2a"/>
<rect x="328.6" y="113.77" width="10" height="3.03" fill="#c8203a"/>
<circle cx="329.3" cy="114.3" r="1.25" fill="#c8203a" stroke="#050505" stroke-width="1.05"/>
<circle cx="330.73" cy="114.3" r="1.25" fill="#c8203a" stroke="#050505" stroke-width="1.05"/>
<circle cx="332.17" cy="114.3" r="1.25" fill="#c8203a" stroke="#050505" stroke-width="1.05"/>
<circle cx="333.6" cy="114.3" r="1.25" fill="#c8203a" stroke="#050505" stroke-width="1.05"/>
<circle cx="335.03" cy="114.3" r="1.25" fill="#c8203a" stroke="#050505" stroke-width="1.05"/>
<circle cx="336.47" cy="114.3" r="1.25" fill="#c8203a" stroke="#050505" stroke-width="1.05"/>
<circle cx="337.9" cy="114.3" r="1.25" fill="#c8203a" stroke="#050505" stroke-width="1.05"/>
<circle cx="330" cy="113.1" r="1.25" fill="#c8203a" stroke="#050505" stroke-width="1.05"/>
<circle cx="331.44" cy="113.1" r="1.25" fill="#c8203a" stroke="#050505" stroke-width="1.05"/>
<circle cx="332.88" cy="113.1" r="1.25" fill="#c8203a" stroke="#050505" stroke-width="1.05"/>
<circle cx="334.32" cy="113.1" r="1.25" fill="#c8203a" stroke="#050505" stroke-width="1.05"/>
<circle cx="335.76" cy="113.1" r="1.25" fill="#c8203a" stroke="#050505" stroke-width="1.05"/>
<circle cx="337.2" cy="113.1" r="1.25" fill="#c8203a" stroke="#050505" stroke-width="1.05"/>
<circle cx="331.35" cy="113" r="1.25" fill="#c8203a" stroke="#050505" stroke-width="1.05"/>
<circle cx="332.85" cy="113" r="1.25" fill="#c8203a" stroke="#050505" stroke-width="1.05"/>
<circle cx="334.35" cy="113" r="1.25" fill="#c8203a" stroke="#050505" stroke-width="1.05"/>
<circle cx="335.86" cy="113" r="1.25" fill="#c8203a" stroke="#050505" stroke-width="1.05"/>
<rect x="343.92" y="108.47" width="10" height="8.33" fill="#c8203a"/>
<path d="M348.92 108.47V101.23M346.72 101.23H351.12" stroke="#1a1a1a" stroke-width="1" fill="none"/>
<circle cx="348.62" cy="93.28" r="1.4" fill="none" stroke="#111" stroke-width="0.95"/>
<circle cx="348.62" cy="95.45" r="1.4" fill="none" stroke="#111" stroke-width="0.95"/>
<circle cx="348.92" cy="103.2" r="1.55" fill="#0d0d0d"/>
<circle cx="345.91" cy="104.5" r="1.55" fill="#0d0d0d"/>
<circle cx="347.41" cy="104.5" r="1.55" fill="#0d0d0d"/>
<circle cx="348.91" cy="104.5" r="1.55" fill="#0d0d0d"/>
<circle cx="350.41" cy="104.5" r="1.55" fill="#0d0d0d"/>
<circle cx="351.91" cy="104.5" r="1.55" fill="#0d0d0d"/>
<circle cx="344.84" cy="105.8" r="1.55" fill="#0d0d0d"/>
<circle cx="346.34" cy="105.8" r="1.55" fill="#0d0d0d"/>
<circle cx="347.84" cy="105.8" r="1.55" fill="#0d0d0d"/>
<circle cx="349.34" cy="105.8" r="1.55" fill="#0d0d0d"/>
<circle cx="350.84" cy="105.8" r="1.55" fill="#0d0d0d"/>
<circle cx="352.34" cy="105.8" r="1.55" fill="#0d0d0d"/>
<circle cx="345.58" cy="107.1" r="1.55" fill="#0d0d0d"/>
<circle cx="347.08" cy="107.1" r="1.55" fill="#0d0d0d"/>
<circle cx="348.58" cy="107.1" r="1.55" fill="#0d0d0d"/>
<circle cx="350.08" cy="107.1" r="1.55" fill="#0d0d0d"/>
<circle cx="351.58" cy="107.1" r="1.55" fill="#0d0d0d"/>
<circle cx="345.06" cy="108.4" r="1.55" fill="#0d0d0d"/>
<circle cx="346.56" cy="108.4" r="1.55" fill="#0d0d0d"/>
<circle cx="348.06" cy="108.4" r="1.55" fill="#0d0d0d"/>
<circle cx="349.56" cy="108.4" r="1.55" fill="#0d0d0d"/>
<circle cx="351.06" cy="108.4" r="1.55" fill="#0d0d0d"/>
<circle cx="352.56" cy="108.4" r="1.55" fill="#0d0d0d"/>
<circle cx="347.4" cy="109.7" r="1.55" fill="#0d0d0d"/>
<circle cx="348.9" cy="109.7" r="1.55" fill="#0d0d0d"/>
<circle cx="350.4" cy="109.7" r="1.55" fill="#0d0d0d"/>
<circle cx="345.82" cy="109.9" r="1.3" fill="none" stroke="#0d0d0d" stroke-width="1.0"/>
<circle cx="347.92" cy="109.9" r="1.3" fill="none" stroke="#0d0d0d" stroke-width="1.0"/>
<circle cx="350.02" cy="109.9" r="1.3" fill="none" stroke="#0d0d0d" stroke-width="1.0"/>
<circle cx="346.87" cy="111.9" r="1.3" fill="none" stroke="#0d0d0d" stroke-width="1.0"/>
<circle cx="348.97" cy="111.9" r="1.3" fill="none" stroke="#0d0d0d" stroke-width="1.0"/>
<circle cx="351.07" cy="111.9" r="1.3" fill="none" stroke="#0d0d0d" stroke-width="1.0"/>
<rect x="359.24" y="112.8" width="10" height="4" fill="#c8203a"/>
<path d="M364.24 112.8V110.15M362.04 110.15H366.44" stroke="#1a1a1a" stroke-width="1" fill="none"/>
<circle cx="360.64" cy="110.15" r="1.4" fill="none" stroke="#111" stroke-width="0.95"/>
<circle cx="367.64" cy="109.43" r="1.4" fill="none" stroke="#111" stroke-width="0.95"/>
<circle cx="360.54" cy="113.29" r="1.4" fill="none" stroke="#111" stroke-width="0.95"/>
<circle cx="364.24" cy="114.73" r="1.4" fill="none" stroke="#111" stroke-width="0.95"/>
<circle cx="367.94" cy="113.29" r="1.4" fill="none" stroke="#111" stroke-width="0.95"/>
<circle cx="360.54" cy="115.94" r="1.4" fill="none" stroke="#111" stroke-width="0.95"/>
<circle cx="367.94" cy="115.94" r="1.4" fill="none" stroke="#111" stroke-width="0.95"/>
<rect x="374.56" y="80.5" width="10" height="36.3" fill="#c8203a"/>
<rect x="374.56" y="51.09" width="10" height="25.21" fill="#c8203a"/>
<path d="M379.56 51.09V40.76M377.36 40.76H381.76" stroke="#1a1a1a" stroke-width="1" fill="none"/>
<circle cx="379.56" cy="36.4" r="1.4" fill="none" stroke="#111" stroke-width="0.95"/>
<circle cx="379.56" cy="44.49" r="1.5" fill="#111"/>
<circle cx="375.86" cy="53.83" r="1.4" fill="none" stroke="#111" stroke-width="0.95"/>
<circle cx="383.76" cy="55.07" r="1.4" fill="none" stroke="#111" stroke-width="0.95"/>
<circle cx="379.16" cy="63.73" r="1.4" fill="none" stroke="#111" stroke-width="0.95"/>
<rect x="389.88" y="110.39" width="10" height="6.41" fill="#c8203a"/>
<path d="M394.88 110.39V105.81M392.68 105.81H397.08" stroke="#1a1a1a" stroke-width="1" fill="none"/>
<circle cx="394.58" cy="102.2" r="1.4" fill="none" stroke="#111" stroke-width="0.95"/>
<circle cx="392.38" cy="105.33" r="1.4" fill="none" stroke="#111" stroke-width="0.95"/>
<circle cx="394.58" cy="105.81" r="1.4" fill="none" stroke="#111" stroke-width="0.95"/>
<circle cx="397.08" cy="105.33" r="1.4" fill="none" stroke="#111" stroke-width="0.95"/>
<circle cx="392.38" cy="112.08" r="1.4" fill="none" stroke="#111" stroke-width="0.95"/>
<circle cx="395.38" cy="112.56" r="1.4" fill="none" stroke="#111" stroke-width="0.95"/>
<rect x="405.2" y="80.5" width="10" height="36.3" fill="#c8203a"/>
<rect x="405.2" y="73.69" width="10" height="2.61" fill="#c8203a"/>
<path d="M410.2 73.69V68.52M408 68.52H412.4" stroke="#1a1a1a" stroke-width="1" fill="none"/>
<circle cx="410.2" cy="62.67" r="1.4" fill="none" stroke="#111" stroke-width="0.95"/>
<circle cx="410.2" cy="70.64" r="1.5" fill="#111"/>
<circle cx="406.7" cy="73.56" r="1.4" fill="none" stroke="#111" stroke-width="0.95"/>
<circle cx="409.2" cy="73.81" r="1.4" fill="none" stroke="#111" stroke-width="0.95"/>
<circle cx="411.7" cy="74.06" r="1.4" fill="none" stroke="#111" stroke-width="0.95"/>
<circle cx="410.2" cy="90.15" r="1.4" fill="none" stroke="#111" stroke-width="0.95"/>
<rect x="420.52" y="101.23" width="10" height="15.56" fill="#c8203a"/>
<path d="M425.52 101.23V91.35M423.32 91.35H427.72" stroke="#1a1a1a" stroke-width="1" fill="none"/>
<circle cx="425.52" cy="82.2" r="1.4" fill="none" stroke="#111" stroke-width="0.95"/>
<circle cx="423.22" cy="94.73" r="1.4" fill="none" stroke="#111" stroke-width="0.95"/>
<circle cx="425.72" cy="94.25" r="1.4" fill="none" stroke="#111" stroke-width="0.95"/>
<circle cx="425.22" cy="96.17" r="1.4" fill="none" stroke="#111" stroke-width="0.95"/>
<circle cx="425.52" cy="97.14" r="1.5" fill="#111"/>
<circle cx="425.52" cy="102.92" r="1.4" fill="none" stroke="#111" stroke-width="0.95"/>
<circle cx="425.52" cy="105.57" r="1.4" fill="none" stroke="#111" stroke-width="0.95"/>
<circle cx="425.52" cy="107.5" r="1.4" fill="none" stroke="#111" stroke-width="0.95"/>
<circle cx="421.52" cy="108.95" r="1.4" fill="none" stroke="#111" stroke-width="0.95"/>
<circle cx="423.82" cy="108.95" r="1.4" fill="none" stroke="#111" stroke-width="0.95"/>
<circle cx="426.32" cy="108.95" r="1.4" fill="none" stroke="#111" stroke-width="0.95"/>
<circle cx="428.72" cy="108.71" r="1.4" fill="none" stroke="#111" stroke-width="0.95"/>
<rect x="435.84" y="80.5" width="10" height="36.3" fill="#c8203a"/>
<rect x="435.84" y="39.51" width="10" height="36.79" fill="#c8203a"/>
<path d="M440.84 39.51V25.19M438.64 25.19H443.04" stroke="#1a1a1a" stroke-width="1" fill="none"/>
<circle cx="440.84" cy="21.02" r="1.4" fill="none" stroke="#111" stroke-width="0.95"/>
<circle cx="440.84" cy="36.4" r="1.5" fill="#111"/>
<circle cx="440.84" cy="40.76" r="1.4" fill="none" stroke="#111" stroke-width="0.95"/>
<circle cx="440.84" cy="55.07" r="1.4" fill="none" stroke="#111" stroke-width="0.95"/>
<rect x="451.16" y="114.73" width="10" height="2.07" fill="#c8203a"/>
<circle cx="452.16" cy="115.5" r="1.25" fill="#c8203a" stroke="#050505" stroke-width="1.05"/>
<circle cx="453.76" cy="115.5" r="1.25" fill="#c8203a" stroke="#050505" stroke-width="1.05"/>
<circle cx="455.36" cy="115.5" r="1.25" fill="#c8203a" stroke="#050505" stroke-width="1.05"/>
<circle cx="456.96" cy="115.5" r="1.25" fill="#c8203a" stroke="#050505" stroke-width="1.05"/>
<circle cx="458.56" cy="115.5" r="1.25" fill="#c8203a" stroke="#050505" stroke-width="1.05"/>
<circle cx="460.16" cy="115.5" r="1.25" fill="#c8203a" stroke="#050505" stroke-width="1.05"/>
<circle cx="452.86" cy="114.3" r="1.25" fill="#c8203a" stroke="#050505" stroke-width="1.05"/>
<circle cx="454.51" cy="114.3" r="1.25" fill="#c8203a" stroke="#050505" stroke-width="1.05"/>
<circle cx="456.16" cy="114.3" r="1.25" fill="#c8203a" stroke="#050505" stroke-width="1.05"/>
<circle cx="457.81" cy="114.3" r="1.25" fill="#c8203a" stroke="#050505" stroke-width="1.05"/>
<circle cx="459.46" cy="114.3" r="1.25" fill="#c8203a" stroke="#050505" stroke-width="1.05"/>
<circle cx="454.07" cy="114.2" r="1.25" fill="#c8203a" stroke="#050505" stroke-width="1.05"/>
<circle cx="455.46" cy="114.2" r="1.25" fill="#c8203a" stroke="#050505" stroke-width="1.05"/>
<circle cx="456.86" cy="114.2" r="1.25" fill="#c8203a" stroke="#050505" stroke-width="1.05"/>
<circle cx="458.25" cy="114.2" r="1.25" fill="#c8203a" stroke="#050505" stroke-width="1.05"/>
<rect x="466.48" y="110.88" width="10" height="5.92" fill="#c8203a"/>
<path d="M471.48 110.88V105.57M469.28 105.57H473.68" stroke="#1a1a1a" stroke-width="1" fill="none"/>
<circle cx="471.48" cy="100.75" r="1.4" fill="none" stroke="#111" stroke-width="0.95"/>
<circle cx="467.68" cy="110.88" r="1.4" fill="none" stroke="#111" stroke-width="0.95"/>
<circle cx="475.38" cy="109.91" r="1.4" fill="none" stroke="#111" stroke-width="0.95"/>
<circle cx="470.98" cy="113.53" r="1.4" fill="none" stroke="#111" stroke-width="0.95"/>
<circle cx="472.68" cy="112.8" r="1.4" fill="none" stroke="#111" stroke-width="0.95"/>
<circle cx="470.98" cy="115.45" r="1.4" fill="none" stroke="#111" stroke-width="0.95"/>
<rect x="481.8" y="112.8" width="10" height="4" fill="#c8203a"/>
<path d="M486.8 112.8V110.15M484.6 110.15H489" stroke="#1a1a1a" stroke-width="1" fill="none"/>
<circle cx="483.1" cy="110.63" r="1.4" fill="none" stroke="#111" stroke-width="0.95"/>
<circle cx="486.1" cy="109.67" r="1.4" fill="none" stroke="#111" stroke-width="0.95"/>
<circle cx="488.8" cy="110.63" r="1.4" fill="none" stroke="#111" stroke-width="0.95"/>
<circle cx="483.1" cy="114.49" r="1.4" fill="none" stroke="#111" stroke-width="0.95"/>
<circle cx="486.1" cy="114.73" r="1.4" fill="none" stroke="#111" stroke-width="0.95"/>
<circle cx="489.3" cy="114.49" r="1.4" fill="none" stroke="#111" stroke-width="0.95"/>
<rect x="497.12" y="108.95" width="10" height="7.85" fill="#c8203a"/>
<path d="M502.12 108.95V105.81M499.92 105.81H504.32" stroke="#1a1a1a" stroke-width="1" fill="none"/>
<circle cx="500.82" cy="105.81" r="1.4" fill="none" stroke="#111" stroke-width="0.95"/>
<circle cx="503.82" cy="105.09" r="1.4" fill="none" stroke="#111" stroke-width="0.95"/>
<circle cx="498.82" cy="111.6" r="1.4" fill="none" stroke="#111" stroke-width="0.95"/>
<circle cx="501.52" cy="110.15" r="1.4" fill="none" stroke="#111" stroke-width="0.95"/>
<circle cx="505.82" cy="109.91" r="1.4" fill="none" stroke="#111" stroke-width="0.95"/>
<circle cx="498.82" cy="113.04" r="1.4" fill="none" stroke="#111" stroke-width="0.95"/>
<path d="M323.9 80.5V116.8H512.9V11.8H323.9V76.3" stroke="#1a1a1a" stroke-width="1.4" fill="none"/>
<path d="M321.7 76.3H323.9" stroke="#1a1a1a" stroke-width="1"/>
<path d="M321.7 116.9H323.9" stroke="#1a1a1a" stroke-width="1"/>
<text x="320.3" y="119.9" font-size="8.5" text-anchor="end" fill="#1e1e1e" class="u" textLength="3.97" lengthAdjust="spacingAndGlyphs">0</text>
<path d="M321.7 104.85H323.9" stroke="#1a1a1a" stroke-width="1"/>
<text x="320.3" y="107.85" font-size="8.5" text-anchor="end" fill="#1e1e1e" class="u" textLength="3.97" lengthAdjust="spacingAndGlyphs">5</text>
<path d="M321.7 92.8H323.9" stroke="#1a1a1a" stroke-width="1"/>
<text x="320.3" y="95.8" font-size="8.5" text-anchor="end" fill="#1e1e1e" class="u" textLength="7.94" lengthAdjust="spacingAndGlyphs">10</text>
<path d="M321.7 80.75H323.9" stroke="#1a1a1a" stroke-width="1"/>
<text x="320.3" y="83.75" font-size="8.5" text-anchor="end" fill="#1e1e1e" class="u" textLength="7.94" lengthAdjust="spacingAndGlyphs">15</text>
<path d="M321.7 61.3H323.9" stroke="#1a1a1a" stroke-width="1"/>
<text x="320.3" y="64.3" font-size="8.5" text-anchor="end" fill="#1e1e1e" class="u" textLength="7.94" lengthAdjust="spacingAndGlyphs">40</text>
<path d="M321.7 36.4H323.9" stroke="#1a1a1a" stroke-width="1"/>
<text x="320.3" y="39.4" font-size="8.5" text-anchor="end" fill="#1e1e1e" class="u" textLength="7.94" lengthAdjust="spacingAndGlyphs">80</text>
<path d="M321.7 11.5H323.9" stroke="#1a1a1a" stroke-width="1"/>
<text x="320.3" y="14.5" font-size="8.5" text-anchor="end" fill="#1e1e1e" class="u" textLength="11.91" lengthAdjust="spacingAndGlyphs">120</text>
<path d="M333.6 116.8V118.8" stroke="#1a1a1a" stroke-width="0.9"/>
<path d="M348.92 116.8V118.8" stroke="#1a1a1a" stroke-width="0.9"/>
<path d="M364.24 116.8V118.8" stroke="#1a1a1a" stroke-width="0.9"/>
<path d="M379.56 116.8V118.8" stroke="#1a1a1a" stroke-width="0.9"/>
<path d="M394.88 116.8V118.8" stroke="#1a1a1a" stroke-width="0.9"/>
<path d="M410.2 116.8V118.8" stroke="#1a1a1a" stroke-width="0.9"/>
<path d="M425.52 116.8V118.8" stroke="#1a1a1a" stroke-width="0.9"/>
<path d="M440.84 116.8V118.8" stroke="#1a1a1a" stroke-width="0.9"/>
<path d="M456.16 116.8V118.8" stroke="#1a1a1a" stroke-width="0.9"/>
<path d="M471.48 116.8V118.8" stroke="#1a1a1a" stroke-width="0.9"/>
<path d="M486.8 116.8V118.8" stroke="#1a1a1a" stroke-width="0.9"/>
<path d="M502.12 116.8V118.8" stroke="#1a1a1a" stroke-width="0.9"/>
<path d="M330.8 89.3H347.8M330.8 87.5V91.1M347.8 87.5V91.1" stroke="#2c2c2c" stroke-width="1.2" fill="none"/>
<rect x="336.7" y="84.33" width="1.75" height="1.75" rx="0.5" fill="#2a2a2a"/>
<rect x="339.55" y="84.33" width="1.75" height="1.75" rx="0.5" fill="#2a2a2a"/>
<path d="M350.3 18.1H440.3M350.3 16.3V19.9M440.3 16.3V19.9" stroke="#2c2c2c" stroke-width="1.2" fill="none"/>
<rect x="390.05" y="13.83" width="1.75" height="1.75" rx="0.5" fill="#2a2a2a"/>
<rect x="392.9" y="13.83" width="1.75" height="1.75" rx="0.5" fill="#2a2a2a"/>
<rect x="395.75" y="13.83" width="1.75" height="1.75" rx="0.5" fill="#2a2a2a"/>
<rect x="398.6" y="13.83" width="1.75" height="1.75" rx="0.5" fill="#2a2a2a"/>
<path d="M348 26.6H406.2M348 24.8V28.4M406.2 24.8V28.4" stroke="#2c2c2c" stroke-width="1.2" fill="none"/>
<rect x="372.75" y="22.33" width="1.75" height="1.75" rx="0.5" fill="#2a2a2a"/>
<rect x="375.6" y="22.33" width="1.75" height="1.75" rx="0.5" fill="#2a2a2a"/>
<rect x="378.45" y="22.33" width="1.75" height="1.75" rx="0.5" fill="#2a2a2a"/>
<rect x="381.3" y="22.33" width="1.75" height="1.75" rx="0.5" fill="#2a2a2a"/>
<path d="M348 33.5H379.6M348 31.7V35.3M379.6 31.7V35.3" stroke="#2c2c2c" stroke-width="1.2" fill="none"/>
<rect x="358.45" y="29.23" width="1.75" height="1.75" rx="0.5" fill="#2a2a2a"/>
<rect x="361.3" y="29.23" width="1.75" height="1.75" rx="0.5" fill="#2a2a2a"/>
<rect x="364.15" y="29.23" width="1.75" height="1.75" rx="0.5" fill="#2a2a2a"/>
<rect x="367" y="29.23" width="1.75" height="1.75" rx="0.5" fill="#2a2a2a"/>
<rect x="328.6" y="234.51" width="10" height="2.89" fill="#c8203a"/>
<circle cx="329.3" cy="234.7" r="1.25" fill="#c8203a" stroke="#050505" stroke-width="1.05"/>
<circle cx="330.73" cy="234.7" r="1.25" fill="#c8203a" stroke="#050505" stroke-width="1.05"/>
<circle cx="332.17" cy="234.7" r="1.25" fill="#c8203a" stroke="#050505" stroke-width="1.05"/>
<circle cx="333.6" cy="234.7" r="1.25" fill="#c8203a" stroke="#050505" stroke-width="1.05"/>
<circle cx="335.03" cy="234.7" r="1.25" fill="#c8203a" stroke="#050505" stroke-width="1.05"/>
<circle cx="336.47" cy="234.7" r="1.25" fill="#c8203a" stroke="#050505" stroke-width="1.05"/>
<circle cx="337.9" cy="234.7" r="1.25" fill="#c8203a" stroke="#050505" stroke-width="1.05"/>
<circle cx="330" cy="233.5" r="1.25" fill="#c8203a" stroke="#050505" stroke-width="1.05"/>
<circle cx="331.44" cy="233.5" r="1.25" fill="#c8203a" stroke="#050505" stroke-width="1.05"/>
<circle cx="332.88" cy="233.5" r="1.25" fill="#c8203a" stroke="#050505" stroke-width="1.05"/>
<circle cx="334.32" cy="233.5" r="1.25" fill="#c8203a" stroke="#050505" stroke-width="1.05"/>
<circle cx="335.76" cy="233.5" r="1.25" fill="#c8203a" stroke="#050505" stroke-width="1.05"/>
<circle cx="337.2" cy="233.5" r="1.25" fill="#c8203a" stroke="#050505" stroke-width="1.05"/>
<circle cx="331.35" cy="233.4" r="1.25" fill="#c8203a" stroke="#050505" stroke-width="1.05"/>
<circle cx="332.85" cy="233.4" r="1.25" fill="#c8203a" stroke="#050505" stroke-width="1.05"/>
<circle cx="334.35" cy="233.4" r="1.25" fill="#c8203a" stroke="#050505" stroke-width="1.05"/>
<circle cx="335.86" cy="233.4" r="1.25" fill="#c8203a" stroke="#050505" stroke-width="1.05"/>
<rect x="343.92" y="219.3" width="10" height="18.1" fill="#c8203a"/>
<circle cx="343.82" cy="210.72" r="1.4" fill="none" stroke="#111" stroke-width="0.95"/>
<circle cx="346.22" cy="210.72" r="1.4" fill="none" stroke="#111" stroke-width="0.95"/>
<circle cx="349.12" cy="210.72" r="1.4" fill="none" stroke="#111" stroke-width="0.95"/>
<circle cx="352.02" cy="210.72" r="1.4" fill="none" stroke="#111" stroke-width="0.95"/>
<circle cx="346.72" cy="212.54" r="1.4" fill="none" stroke="#111" stroke-width="0.95"/>
<circle cx="349.12" cy="212.54" r="1.4" fill="none" stroke="#111" stroke-width="0.95"/>
<circle cx="347.72" cy="214.62" r="1.4" fill="none" stroke="#111" stroke-width="0.95"/>
<circle cx="345.32" cy="218" r="1.4" fill="none" stroke="#111" stroke-width="0.95"/>
<circle cx="347.22" cy="218" r="1.4" fill="none" stroke="#111" stroke-width="0.95"/>
<circle cx="349.62" cy="218" r="1.4" fill="none" stroke="#111" stroke-width="0.95"/>
<circle cx="346.22" cy="228.4" r="1.4" fill="none" stroke="#111" stroke-width="0.95"/>
<circle cx="349.12" cy="230.48" r="1.4" fill="none" stroke="#111" stroke-width="0.95"/>
<circle cx="346.22" cy="232.3" r="1.4" fill="none" stroke="#111" stroke-width="0.95"/>
<rect x="359.24" y="234.12" width="10" height="3.28" fill="#c8203a"/>
<path d="M364.24 234.12V230.74M362.04 230.74H366.44" stroke="#1a1a1a" stroke-width="1" fill="none"/>
<circle cx="361.24" cy="229.44" r="1.4" fill="none" stroke="#111" stroke-width="0.95"/>
<circle cx="364.44" cy="229.44" r="1.4" fill="none" stroke="#111" stroke-width="0.95"/>
<circle cx="360.74" cy="234.9" r="1.4" fill="none" stroke="#111" stroke-width="0.95"/>
<circle cx="363.74" cy="235.16" r="1.4" fill="none" stroke="#111" stroke-width="0.95"/>
<circle cx="366.84" cy="234.9" r="1.4" fill="none" stroke="#111" stroke-width="0.95"/>
<circle cx="368.24" cy="234.9" r="1.4" fill="none" stroke="#111" stroke-width="0.95"/>
<rect x="374.56" y="198.4" width="10" height="39" fill="#c8203a"/>
<rect x="374.56" y="174.35" width="10" height="20.15" fill="#c8203a"/>
<path d="M379.56 174.35V160.96M377.36 160.96H381.76" stroke="#1a1a1a" stroke-width="1" fill="none"/>
<circle cx="379.56" cy="158.07" r="1.4" fill="none" stroke="#111" stroke-width="0.95"/>
<circle cx="379.56" cy="162.8" r="1.5" fill="#111"/>
<circle cx="379.56" cy="164.11" r="1.5" fill="#111"/>
<circle cx="375.96" cy="182.5" r="1.4" fill="none" stroke="#111" stroke-width="0.95"/>
<circle cx="381.26" cy="183.55" r="1.4" fill="none" stroke="#111" stroke-width="0.95"/>
<circle cx="378.76" cy="187.29" r="1.4" fill="none" stroke="#111" stroke-width="0.95"/>
<rect x="389.88" y="226.58" width="10" height="10.82" fill="#c8203a"/>
<circle cx="393.28" cy="222.42" r="1.4" fill="none" stroke="#111" stroke-width="0.95"/>
<circle cx="391.38" cy="225.02" r="1.4" fill="none" stroke="#111" stroke-width="0.95"/>
<circle cx="393.38" cy="224.5" r="1.4" fill="none" stroke="#111" stroke-width="0.95"/>
<circle cx="395.38" cy="225.54" r="1.4" fill="none" stroke="#111" stroke-width="0.95"/>
<circle cx="397.38" cy="225.8" r="1.4" fill="none" stroke="#111" stroke-width="0.95"/>
<circle cx="398.88" cy="226.58" r="1.4" fill="none" stroke="#111" stroke-width="0.95"/>
<circle cx="392.38" cy="227.62" r="1.4" fill="none" stroke="#111" stroke-width="0.95"/>
<circle cx="394.88" cy="227.36" r="1.4" fill="none" stroke="#111" stroke-width="0.95"/>
<circle cx="397.68" cy="228.14" r="1.4" fill="none" stroke="#111" stroke-width="0.95"/>
<rect x="405.2" y="198.4" width="10" height="39" fill="#c8203a"/>
<rect x="405.2" y="190.57" width="10" height="3.93" fill="#c8203a"/>
<circle cx="406.6" cy="186.11" r="1.4" fill="none" stroke="#111" stroke-width="0.95"/>
<circle cx="409" cy="185.65" r="1.4" fill="none" stroke="#111" stroke-width="0.95"/>
<circle cx="411.4" cy="185.91" r="1.4" fill="none" stroke="#111" stroke-width="0.95"/>
<circle cx="413.8" cy="186.44" r="1.4" fill="none" stroke="#111" stroke-width="0.95"/>
<circle cx="407" cy="188.54" r="1.4" fill="none" stroke="#111" stroke-width="0.95"/>
<circle cx="409.4" cy="188.21" r="1.4" fill="none" stroke="#111" stroke-width="0.95"/>
<circle cx="411.7" cy="188.67" r="1.4" fill="none" stroke="#111" stroke-width="0.95"/>
<circle cx="414" cy="188.93" r="1.4" fill="none" stroke="#111" stroke-width="0.95"/>
<circle cx="408.2" cy="189.98" r="1.4" fill="none" stroke="#111" stroke-width="0.95"/>
<circle cx="410.8" cy="189.85" r="1.4" fill="none" stroke="#111" stroke-width="0.95"/>
<circle cx="413.2" cy="190.05" r="1.4" fill="none" stroke="#111" stroke-width="0.95"/>
<rect x="420.52" y="219.56" width="10" height="17.84" fill="#c8203a"/>
<circle cx="421.82" cy="218.52" r="1.4" fill="none" stroke="#111" stroke-width="0.95"/>
<circle cx="424.02" cy="217.48" r="1.4" fill="none" stroke="#111" stroke-width="0.95"/>
<circle cx="426.22" cy="216.44" r="1.4" fill="none" stroke="#111" stroke-width="0.95"/>
<circle cx="428.22" cy="217.74" r="1.4" fill="none" stroke="#111" stroke-width="0.95"/>
<circle cx="429.82" cy="219.04" r="1.4" fill="none" stroke="#111" stroke-width="0.95"/>
<rect x="435.84" y="198.4" width="10" height="39" fill="#c8203a"/>
<rect x="435.84" y="155.51" width="10" height="38.99" fill="#c8203a"/>
<path d="M440.84 155.51V145.39M438.64 145.39H443.04" stroke="#1a1a1a" stroke-width="1" fill="none"/>
<circle cx="437.84" cy="144.87" r="1.4" fill="none" stroke="#111" stroke-width="0.95"/>
<circle cx="443.44" cy="144.21" r="1.4" fill="none" stroke="#111" stroke-width="0.95"/>
<circle cx="440.54" cy="145.72" r="1.5" fill="#111"/>
<circle cx="437.84" cy="157.28" r="1.4" fill="none" stroke="#111" stroke-width="0.95"/>
<circle cx="443.74" cy="156.36" r="1.4" fill="none" stroke="#111" stroke-width="0.95"/>
<circle cx="440.84" cy="160.89" r="1.4" fill="none" stroke="#111" stroke-width="0.95"/>
<circle cx="440.84" cy="165.82" r="1.4" fill="none" stroke="#111" stroke-width="0.95"/>
<rect x="451.16" y="235.16" width="10" height="2.24" fill="#c8203a"/>
<circle cx="452.16" cy="235.8" r="1.25" fill="#c8203a" stroke="#050505" stroke-width="1.05"/>
<circle cx="453.76" cy="235.8" r="1.25" fill="#c8203a" stroke="#050505" stroke-width="1.05"/>
<circle cx="455.36" cy="235.8" r="1.25" fill="#c8203a" stroke="#050505" stroke-width="1.05"/>
<circle cx="456.96" cy="235.8" r="1.25" fill="#c8203a" stroke="#050505" stroke-width="1.05"/>
<circle cx="458.56" cy="235.8" r="1.25" fill="#c8203a" stroke="#050505" stroke-width="1.05"/>
<circle cx="460.16" cy="235.8" r="1.25" fill="#c8203a" stroke="#050505" stroke-width="1.05"/>
<circle cx="452.86" cy="234.6" r="1.25" fill="#c8203a" stroke="#050505" stroke-width="1.05"/>
<circle cx="454.51" cy="234.6" r="1.25" fill="#c8203a" stroke="#050505" stroke-width="1.05"/>
<circle cx="456.16" cy="234.6" r="1.25" fill="#c8203a" stroke="#050505" stroke-width="1.05"/>
<circle cx="457.81" cy="234.6" r="1.25" fill="#c8203a" stroke="#050505" stroke-width="1.05"/>
<circle cx="459.46" cy="234.6" r="1.25" fill="#c8203a" stroke="#050505" stroke-width="1.05"/>
<circle cx="454.07" cy="234.5" r="1.25" fill="#c8203a" stroke="#050505" stroke-width="1.05"/>
<circle cx="455.46" cy="234.5" r="1.25" fill="#c8203a" stroke="#050505" stroke-width="1.05"/>
<circle cx="456.86" cy="234.5" r="1.25" fill="#c8203a" stroke="#050505" stroke-width="1.05"/>
<circle cx="458.25" cy="234.5" r="1.25" fill="#c8203a" stroke="#050505" stroke-width="1.05"/>
<rect x="466.48" y="230.22" width="10" height="7.18" fill="#c8203a"/>
<circle cx="468.78" cy="228.92" r="1.4" fill="none" stroke="#111" stroke-width="0.95"/>
<circle cx="471.98" cy="228.92" r="1.4" fill="none" stroke="#111" stroke-width="0.95"/>
<circle cx="475.18" cy="228.92" r="1.4" fill="none" stroke="#111" stroke-width="0.95"/>
<circle cx="466.98" cy="231" r="1.4" fill="none" stroke="#111" stroke-width="0.95"/>
<circle cx="470.08" cy="231" r="1.4" fill="none" stroke="#111" stroke-width="0.95"/>
<circle cx="473.28" cy="231" r="1.4" fill="none" stroke="#111" stroke-width="0.95"/>
<rect x="481.8" y="234.64" width="10" height="2.76" fill="#c8203a"/>
<circle cx="482.8" cy="233.86" r="1.4" fill="none" stroke="#111" stroke-width="0.95"/>
<circle cx="485.3" cy="233.34" r="1.4" fill="none" stroke="#111" stroke-width="0.95"/>
<circle cx="487.8" cy="233.08" r="1.4" fill="none" stroke="#111" stroke-width="0.95"/>
<circle cx="490.3" cy="233.6" r="1.4" fill="none" stroke="#111" stroke-width="0.95"/>
<circle cx="484.1" cy="235.42" r="1.4" fill="none" stroke="#111" stroke-width="0.95"/>
<circle cx="487.3" cy="235.16" r="1.4" fill="none" stroke="#111" stroke-width="0.95"/>
<circle cx="490.3" cy="235.42" r="1.4" fill="none" stroke="#111" stroke-width="0.95"/>
<rect x="497.12" y="226.58" width="10" height="10.82" fill="#c8203a"/>
<path d="M502.12 226.58V224.5M499.92 224.5H504.32" stroke="#1a1a1a" stroke-width="1" fill="none"/>
<circle cx="498.12" cy="223.2" r="1.4" fill="none" stroke="#111" stroke-width="0.95"/>
<circle cx="501.92" cy="222.16" r="1.4" fill="none" stroke="#111" stroke-width="0.95"/>
<circle cx="505.72" cy="222.94" r="1.4" fill="none" stroke="#111" stroke-width="0.95"/>
<circle cx="501.92" cy="221.38" r="1.4" fill="none" stroke="#111" stroke-width="0.95"/>
<circle cx="500.02" cy="231" r="1.4" fill="none" stroke="#111" stroke-width="0.95"/>
<circle cx="503.92" cy="229.7" r="1.4" fill="none" stroke="#111" stroke-width="0.95"/>
<circle cx="501.92" cy="228.4" r="1.4" fill="none" stroke="#111" stroke-width="0.95"/>
<path d="M323.7 198.4V237.4H513V125.5H323.7V194.5" stroke="#1a1a1a" stroke-width="1.4" fill="none"/>
<path d="M321.5 194.5H323.7" stroke="#1a1a1a" stroke-width="1"/>
<path d="M321.5 237.5H323.7" stroke="#1a1a1a" stroke-width="1"/>
<text x="320.1" y="240.5" font-size="8.5" text-anchor="end" fill="#1e1e1e" class="u" textLength="3.97" lengthAdjust="spacingAndGlyphs">0</text>
<path d="M321.5 224.5H323.7" stroke="#1a1a1a" stroke-width="1"/>
<text x="320.1" y="227.5" font-size="8.5" text-anchor="end" fill="#1e1e1e" class="u" textLength="3.97" lengthAdjust="spacingAndGlyphs">5</text>
<path d="M321.5 211.5H323.7" stroke="#1a1a1a" stroke-width="1"/>
<text x="320.1" y="214.5" font-size="8.5" text-anchor="end" fill="#1e1e1e" class="u" textLength="7.94" lengthAdjust="spacingAndGlyphs">10</text>
<path d="M321.5 198.5H323.7" stroke="#1a1a1a" stroke-width="1"/>
<text x="320.1" y="201.5" font-size="8.5" text-anchor="end" fill="#1e1e1e" class="u" textLength="7.94" lengthAdjust="spacingAndGlyphs">15</text>
<path d="M321.5 177.9H323.7" stroke="#1a1a1a" stroke-width="1"/>
<text x="320.1" y="180.9" font-size="8.5" text-anchor="end" fill="#1e1e1e" class="u" textLength="7.94" lengthAdjust="spacingAndGlyphs">40</text>
<path d="M321.5 151.63H323.7" stroke="#1a1a1a" stroke-width="1"/>
<text x="320.1" y="154.63" font-size="8.5" text-anchor="end" fill="#1e1e1e" class="u" textLength="7.94" lengthAdjust="spacingAndGlyphs">80</text>
<path d="M321.5 125.36H323.7" stroke="#1a1a1a" stroke-width="1"/>
<text x="320.1" y="128.36" font-size="8.5" text-anchor="end" fill="#1e1e1e" class="u" textLength="11.91" lengthAdjust="spacingAndGlyphs">120</text>
<path d="M333.6 237.4V239.4" stroke="#1a1a1a" stroke-width="0.9"/>
<path d="M348.92 237.4V239.4" stroke="#1a1a1a" stroke-width="0.9"/>
<path d="M364.24 237.4V239.4" stroke="#1a1a1a" stroke-width="0.9"/>
<path d="M379.56 237.4V239.4" stroke="#1a1a1a" stroke-width="0.9"/>
<path d="M394.88 237.4V239.4" stroke="#1a1a1a" stroke-width="0.9"/>
<path d="M410.2 237.4V239.4" stroke="#1a1a1a" stroke-width="0.9"/>
<path d="M425.52 237.4V239.4" stroke="#1a1a1a" stroke-width="0.9"/>
<path d="M440.84 237.4V239.4" stroke="#1a1a1a" stroke-width="0.9"/>
<path d="M456.16 237.4V239.4" stroke="#1a1a1a" stroke-width="0.9"/>
<path d="M471.48 237.4V239.4" stroke="#1a1a1a" stroke-width="0.9"/>
<path d="M486.8 237.4V239.4" stroke="#1a1a1a" stroke-width="0.9"/>
<path d="M502.12 237.4V239.4" stroke="#1a1a1a" stroke-width="0.9"/>
<path d="M331.1 207.3H346.4M331.1 205.5V209.1M346.4 205.5V209.1" stroke="#2c2c2c" stroke-width="1.2" fill="none"/>
<text x="338.5" y="204.7" font-size="7.4" text-anchor="middle" fill="#333">ns</text>
<path d="M347.3 139.7H439.6M347.3 137.9V141.5M439.6 137.9V141.5" stroke="#2c2c2c" stroke-width="1.2" fill="none"/>
<rect x="388.85" y="135.42" width="1.75" height="1.75" rx="0.5" fill="#2a2a2a"/>
<rect x="391.7" y="135.42" width="1.75" height="1.75" rx="0.5" fill="#2a2a2a"/>
<rect x="394.55" y="135.42" width="1.75" height="1.75" rx="0.5" fill="#2a2a2a"/>
<rect x="397.4" y="135.42" width="1.75" height="1.75" rx="0.5" fill="#2a2a2a"/>
<path d="M344.3 148.2H410.8M344.3 146.4V150M410.8 146.4V150" stroke="#2c2c2c" stroke-width="1.2" fill="none"/>
<rect x="373.85" y="143.92" width="1.75" height="1.75" rx="0.5" fill="#2a2a2a"/>
<rect x="376.7" y="143.92" width="1.75" height="1.75" rx="0.5" fill="#2a2a2a"/>
<rect x="379.55" y="143.92" width="1.75" height="1.75" rx="0.5" fill="#2a2a2a"/>
<rect x="382.4" y="143.92" width="1.75" height="1.75" rx="0.5" fill="#2a2a2a"/>
<path d="M347.3 155.2H378.9M347.3 153.4V157M378.9 153.4V157" stroke="#2c2c2c" stroke-width="1.2" fill="none"/>
<rect x="357.95" y="150.92" width="1.75" height="1.75" rx="0.5" fill="#2a2a2a"/>
<rect x="360.8" y="150.92" width="1.75" height="1.75" rx="0.5" fill="#2a2a2a"/>
<rect x="363.65" y="150.92" width="1.75" height="1.75" rx="0.5" fill="#2a2a2a"/>
<rect x="366.5" y="150.92" width="1.75" height="1.75" rx="0.5" fill="#2a2a2a"/>
<text x="7" y="250.9" font-size="8.2" fill="#1e1e1e" class="t" textLength="30.7" lengthAdjust="spacingAndGlyphs">Poly (I:C)</text>
<rect x="75.7" y="248.4" width="1.8" height="1.2" fill="#555"/>
<path d="M89.31 249H93.71M91.51 246.8V251.2" stroke="#333" stroke-width="1.3"/>
<rect x="105.52" y="248.4" width="1.8" height="1.2" fill="#555"/>
<path d="M119.13 249H123.53M121.33 246.8V251.2" stroke="#333" stroke-width="1.3"/>
<rect x="135.34" y="248.4" width="1.8" height="1.2" fill="#555"/>
<path d="M148.95 249H153.35M151.15 246.8V251.2" stroke="#333" stroke-width="1.3"/>
<rect x="165.16" y="248.4" width="1.8" height="1.2" fill="#555"/>
<path d="M178.77 249H183.17M180.97 246.8V251.2" stroke="#333" stroke-width="1.3"/>
<rect x="194.98" y="248.4" width="1.8" height="1.2" fill="#555"/>
<path d="M208.59 249H212.99M210.79 246.8V251.2" stroke="#333" stroke-width="1.3"/>
<rect x="224.8" y="248.4" width="1.8" height="1.2" fill="#555"/>
<path d="M238.41 249H242.81M240.61 246.8V251.2" stroke="#333" stroke-width="1.3"/>
<text x="7" y="262.3" font-size="8.2" fill="#1e1e1e" class="t" textLength="46" lengthAdjust="spacingAndGlyphs">TFLLRN-NH2</text>
<rect x="75.7" y="259.5" width="1.8" height="1.2" fill="#555"/>
<rect x="90.61" y="259.5" width="1.8" height="1.2" fill="#555"/>
<path d="M104.22 260.1H108.62M106.42 257.9V262.3" stroke="#333" stroke-width="1.3"/>
<path d="M119.13 260.1H123.53M121.33 257.9V262.3" stroke="#333" stroke-width="1.3"/>
<rect x="135.34" y="259.5" width="1.8" height="1.2" fill="#555"/>
<rect x="150.25" y="259.5" width="1.8" height="1.2" fill="#555"/>
<rect x="165.16" y="259.5" width="1.8" height="1.2" fill="#555"/>
<rect x="180.07" y="259.5" width="1.8" height="1.2" fill="#555"/>
<rect x="194.98" y="259.5" width="1.8" height="1.2" fill="#555"/>
<rect x="209.89" y="259.5" width="1.8" height="1.2" fill="#555"/>
<rect x="224.8" y="259.5" width="1.8" height="1.2" fill="#555"/>
<rect x="239.71" y="259.5" width="1.8" height="1.2" fill="#555"/>
<text x="7" y="272" font-size="8.2" fill="#1e1e1e" class="t" textLength="47" lengthAdjust="spacingAndGlyphs">SFLLRN-NH2</text>
<rect x="75.7" y="268.5" width="1.8" height="1.2" fill="#555"/>
<rect x="90.61" y="268.5" width="1.8" height="1.2" fill="#555"/>
<rect x="105.52" y="268.5" width="1.8" height="1.2" fill="#555"/>
<rect x="120.43" y="268.5" width="1.8" height="1.2" fill="#555"/>
<path d="M134.04 269.1H138.44M136.24 266.9V271.3" stroke="#333" stroke-width="1.3"/>
<path d="M148.95 269.1H153.35M151.15 266.9V271.3" stroke="#333" stroke-width="1.3"/>
<rect x="165.16" y="268.5" width="1.8" height="1.2" fill="#555"/>
<rect x="180.07" y="268.5" width="1.8" height="1.2" fill="#555"/>
<rect x="194.98" y="268.5" width="1.8" height="1.2" fill="#555"/>
<rect x="209.89" y="268.5" width="1.8" height="1.2" fill="#555"/>
<rect x="224.8" y="268.5" width="1.8" height="1.2" fill="#555"/>
<rect x="239.71" y="268.5" width="1.8" height="1.2" fill="#555"/>
<text x="7" y="283.5" font-size="8.2" fill="#1e1e1e" class="t" textLength="46" lengthAdjust="spacingAndGlyphs">SLIGKV-NH2</text>
<rect x="75.7" y="280.3" width="1.8" height="1.2" fill="#555"/>
<rect x="90.61" y="280.3" width="1.8" height="1.2" fill="#555"/>
<rect x="105.52" y="280.3" width="1.8" height="1.2" fill="#555"/>
<rect x="120.43" y="280.3" width="1.8" height="1.2" fill="#555"/>
<rect x="135.34" y="280.3" width="1.8" height="1.2" fill="#555"/>
<rect x="150.25" y="280.3" width="1.8" height="1.2" fill="#555"/>
<path d="M163.86 280.9H168.26M166.06 278.7V283.1" stroke="#333" stroke-width="1.3"/>
<path d="M178.77 280.9H183.17M180.97 278.7V283.1" stroke="#333" stroke-width="1.3"/>
<rect x="194.98" y="280.3" width="1.8" height="1.2" fill="#555"/>
<rect x="209.89" y="280.3" width="1.8" height="1.2" fill="#555"/>
<rect x="224.8" y="280.3" width="1.8" height="1.2" fill="#555"/>
<rect x="239.71" y="280.3" width="1.8" height="1.2" fill="#555"/>
<text x="7" y="294.2" font-size="8.2" fill="#1e1e1e" class="t" textLength="49.2" lengthAdjust="spacingAndGlyphs">TFRGAP-NH2</text>
<rect x="75.7" y="290.9" width="1.8" height="1.2" fill="#555"/>
<rect x="90.61" y="290.9" width="1.8" height="1.2" fill="#555"/>
<rect x="105.52" y="290.9" width="1.8" height="1.2" fill="#555"/>
<rect x="120.43" y="290.9" width="1.8" height="1.2" fill="#555"/>
<rect x="135.34" y="290.9" width="1.8" height="1.2" fill="#555"/>
<rect x="150.25" y="290.9" width="1.8" height="1.2" fill="#555"/>
<rect x="165.16" y="290.9" width="1.8" height="1.2" fill="#555"/>
<rect x="180.07" y="290.9" width="1.8" height="1.2" fill="#555"/>
<path d="M193.68 291.5H198.08M195.88 289.3V293.7" stroke="#333" stroke-width="1.3"/>
<path d="M208.59 291.5H212.99M210.79 289.3V293.7" stroke="#333" stroke-width="1.3"/>
<rect x="224.8" y="290.9" width="1.8" height="1.2" fill="#555"/>
<rect x="239.71" y="290.9" width="1.8" height="1.2" fill="#555"/>
<text x="7" y="304.5" font-size="8.2" fill="#1e1e1e" class="t" textLength="45.3" lengthAdjust="spacingAndGlyphs">GYPGV-NH2</text>
<rect x="75.7" y="300.9" width="1.8" height="1.2" fill="#555"/>
<rect x="90.61" y="300.9" width="1.8" height="1.2" fill="#555"/>
<rect x="105.52" y="300.9" width="1.8" height="1.2" fill="#555"/>
<rect x="120.43" y="300.9" width="1.8" height="1.2" fill="#555"/>
<rect x="135.34" y="300.9" width="1.8" height="1.2" fill="#555"/>
<rect x="150.25" y="300.9" width="1.8" height="1.2" fill="#555"/>
<rect x="165.16" y="300.9" width="1.8" height="1.2" fill="#555"/>
<rect x="180.07" y="300.9" width="1.8" height="1.2" fill="#555"/>
<rect x="194.98" y="300.9" width="1.8" height="1.2" fill="#555"/>
<rect x="209.89" y="300.9" width="1.8" height="1.2" fill="#555"/>
<path d="M223.5 301.5H227.9M225.7 299.3V303.7" stroke="#333" stroke-width="1.3"/>
<path d="M238.41 301.5H242.81M240.61 299.3V303.7" stroke="#333" stroke-width="1.3"/>
<text x="264" y="249.5" font-size="8.2" fill="#1e1e1e" class="t" textLength="30" lengthAdjust="spacingAndGlyphs">Poly (I:C)</text>
<rect x="332.7" y="246.4" width="1.8" height="1.2" fill="#555"/>
<path d="M346.72 247H351.12M348.92 244.8V249.2" stroke="#333" stroke-width="1.3"/>
<rect x="363.34" y="246.4" width="1.8" height="1.2" fill="#555"/>
<path d="M377.36 247H381.76M379.56 244.8V249.2" stroke="#333" stroke-width="1.3"/>
<rect x="393.98" y="246.4" width="1.8" height="1.2" fill="#555"/>
<path d="M408 247H412.4M410.2 244.8V249.2" stroke="#333" stroke-width="1.3"/>
<rect x="424.62" y="246.4" width="1.8" height="1.2" fill="#555"/>
<path d="M438.64 247H443.04M440.84 244.8V249.2" stroke="#333" stroke-width="1.3"/>
<rect x="455.26" y="246.4" width="1.8" height="1.2" fill="#555"/>
<path d="M469.28 247H473.68M471.48 244.8V249.2" stroke="#333" stroke-width="1.3"/>
<rect x="485.9" y="246.4" width="1.8" height="1.2" fill="#555"/>
<path d="M499.92 247H504.32M502.12 244.8V249.2" stroke="#333" stroke-width="1.3"/>
<text x="264" y="260.1" font-size="8.2" fill="#1e1e1e" class="t" textLength="46" lengthAdjust="spacingAndGlyphs">TFLLRN-NH2</text>
<rect x="332.7" y="256.7" width="1.8" height="1.2" fill="#555"/>
<rect x="348.02" y="256.7" width="1.8" height="1.2" fill="#555"/>
<path d="M362.04 257.3H366.44M364.24 255.1V259.5" stroke="#333" stroke-width="1.3"/>
<path d="M377.36 257.3H381.76M379.56 255.1V259.5" stroke="#333" stroke-width="1.3"/>
<rect x="393.98" y="256.7" width="1.8" height="1.2" fill="#555"/>
<rect x="409.3" y="256.7" width="1.8" height="1.2" fill="#555"/>
<rect x="424.62" y="256.7" width="1.8" height="1.2" fill="#555"/>
<rect x="439.94" y="256.7" width="1.8" height="1.2" fill="#555"/>
<rect x="455.26" y="256.7" width="1.8" height="1.2" fill="#555"/>
<rect x="470.58" y="256.7" width="1.8" height="1.2" fill="#555"/>
<rect x="485.9" y="256.7" width="1.8" height="1.2" fill="#555"/>
<rect x="501.22" y="256.7" width="1.8" height="1.2" fill="#555"/>
<text x="264" y="270.8" font-size="8.2" fill="#1e1e1e" class="t" textLength="46.8" lengthAdjust="spacingAndGlyphs">SFLLRN-NH2</text>
<rect x="332.7" y="267.2" width="1.8" height="1.2" fill="#555"/>
<rect x="348.02" y="267.2" width="1.8" height="1.2" fill="#555"/>
<rect x="363.34" y="267.2" width="1.8" height="1.2" fill="#555"/>
<rect x="378.66" y="267.2" width="1.8" height="1.2" fill="#555"/>
<path d="M392.68 267.8H397.08M394.88 265.6V270" stroke="#333" stroke-width="1.3"/>
<path d="M408 267.8H412.4M410.2 265.6V270" stroke="#333" stroke-width="1.3"/>
<rect x="424.62" y="267.2" width="1.8" height="1.2" fill="#555"/>
<rect x="439.94" y="267.2" width="1.8" height="1.2" fill="#555"/>
<rect x="455.26" y="267.2" width="1.8" height="1.2" fill="#555"/>
<rect x="470.58" y="267.2" width="1.8" height="1.2" fill="#555"/>
<rect x="485.9" y="267.2" width="1.8" height="1.2" fill="#555"/>
<rect x="501.22" y="267.2" width="1.8" height="1.2" fill="#555"/>
<text x="264" y="281.4" font-size="8.2" fill="#1e1e1e" class="t" textLength="45.8" lengthAdjust="spacingAndGlyphs">SLIGKV-NH2</text>
<rect x="332.7" y="278" width="1.8" height="1.2" fill="#555"/>
<rect x="348.02" y="278" width="1.8" height="1.2" fill="#555"/>
<rect x="363.34" y="278" width="1.8" height="1.2" fill="#555"/>
<rect x="378.66" y="278" width="1.8" height="1.2" fill="#555"/>
<rect x="393.98" y="278" width="1.8" height="1.2" fill="#555"/>
<rect x="409.3" y="278" width="1.8" height="1.2" fill="#555"/>
<path d="M423.32 278.6H427.72M425.52 276.4V280.8" stroke="#333" stroke-width="1.3"/>
<path d="M438.64 278.6H443.04M440.84 276.4V280.8" stroke="#333" stroke-width="1.3"/>
<rect x="455.26" y="278" width="1.8" height="1.2" fill="#555"/>
<rect x="470.58" y="278" width="1.8" height="1.2" fill="#555"/>
<rect x="485.9" y="278" width="1.8" height="1.2" fill="#555"/>
<rect x="501.22" y="278" width="1.8" height="1.2" fill="#555"/>
<text x="264" y="291.7" font-size="8.2" fill="#1e1e1e" class="t" textLength="48" lengthAdjust="spacingAndGlyphs">TFRGAP-NH2</text>
<rect x="332.7" y="288.6" width="1.8" height="1.2" fill="#555"/>
<rect x="348.02" y="288.6" width="1.8" height="1.2" fill="#555"/>
<rect x="363.34" y="288.6" width="1.8" height="1.2" fill="#555"/>
<rect x="378.66" y="288.6" width="1.8" height="1.2" fill="#555"/>
<rect x="393.98" y="288.6" width="1.8" height="1.2" fill="#555"/>
<rect x="409.3" y="288.6" width="1.8" height="1.2" fill="#555"/>
<rect x="424.62" y="288.6" width="1.8" height="1.2" fill="#555"/>
<rect x="439.94" y="288.6" width="1.8" height="1.2" fill="#555"/>
<path d="M453.96 289.2H458.36M456.16 287V291.4" stroke="#333" stroke-width="1.3"/>
<path d="M469.28 289.2H473.68M471.48 287V291.4" stroke="#333" stroke-width="1.3"/>
<rect x="485.9" y="288.6" width="1.8" height="1.2" fill="#555"/>
<rect x="501.22" y="288.6" width="1.8" height="1.2" fill="#555"/>
<text x="264" y="302.2" font-size="8.2" fill="#1e1e1e" class="t" textLength="45" lengthAdjust="spacingAndGlyphs">GYPGV-NH2</text>
<rect x="332.7" y="299.1" width="1.8" height="1.2" fill="#555"/>
<rect x="348.02" y="299.1" width="1.8" height="1.2" fill="#555"/>
<rect x="363.34" y="299.1" width="1.8" height="1.2" fill="#555"/>
<rect x="378.66" y="299.1" width="1.8" height="1.2" fill="#555"/>
<rect x="393.98" y="299.1" width="1.8" height="1.2" fill="#555"/>
<rect x="409.3" y="299.1" width="1.8" height="1.2" fill="#555"/>
<rect x="424.62" y="299.1" width="1.8" height="1.2" fill="#555"/>
<rect x="439.94" y="299.1" width="1.8" height="1.2" fill="#555"/>
<rect x="455.26" y="299.1" width="1.8" height="1.2" fill="#555"/>
<rect x="470.58" y="299.1" width="1.8" height="1.2" fill="#555"/>
<path d="M484.6 299.7H489M486.8 297.5V301.9" stroke="#333" stroke-width="1.3"/>
<path d="M499.92 299.7H504.32M502.12 297.5V301.9" stroke="#333" stroke-width="1.3"/>
<rect x="0.5" y="0.5" width="519" height="312" fill="none" stroke="#000" stroke-width="1"/>
</svg></body></html>
